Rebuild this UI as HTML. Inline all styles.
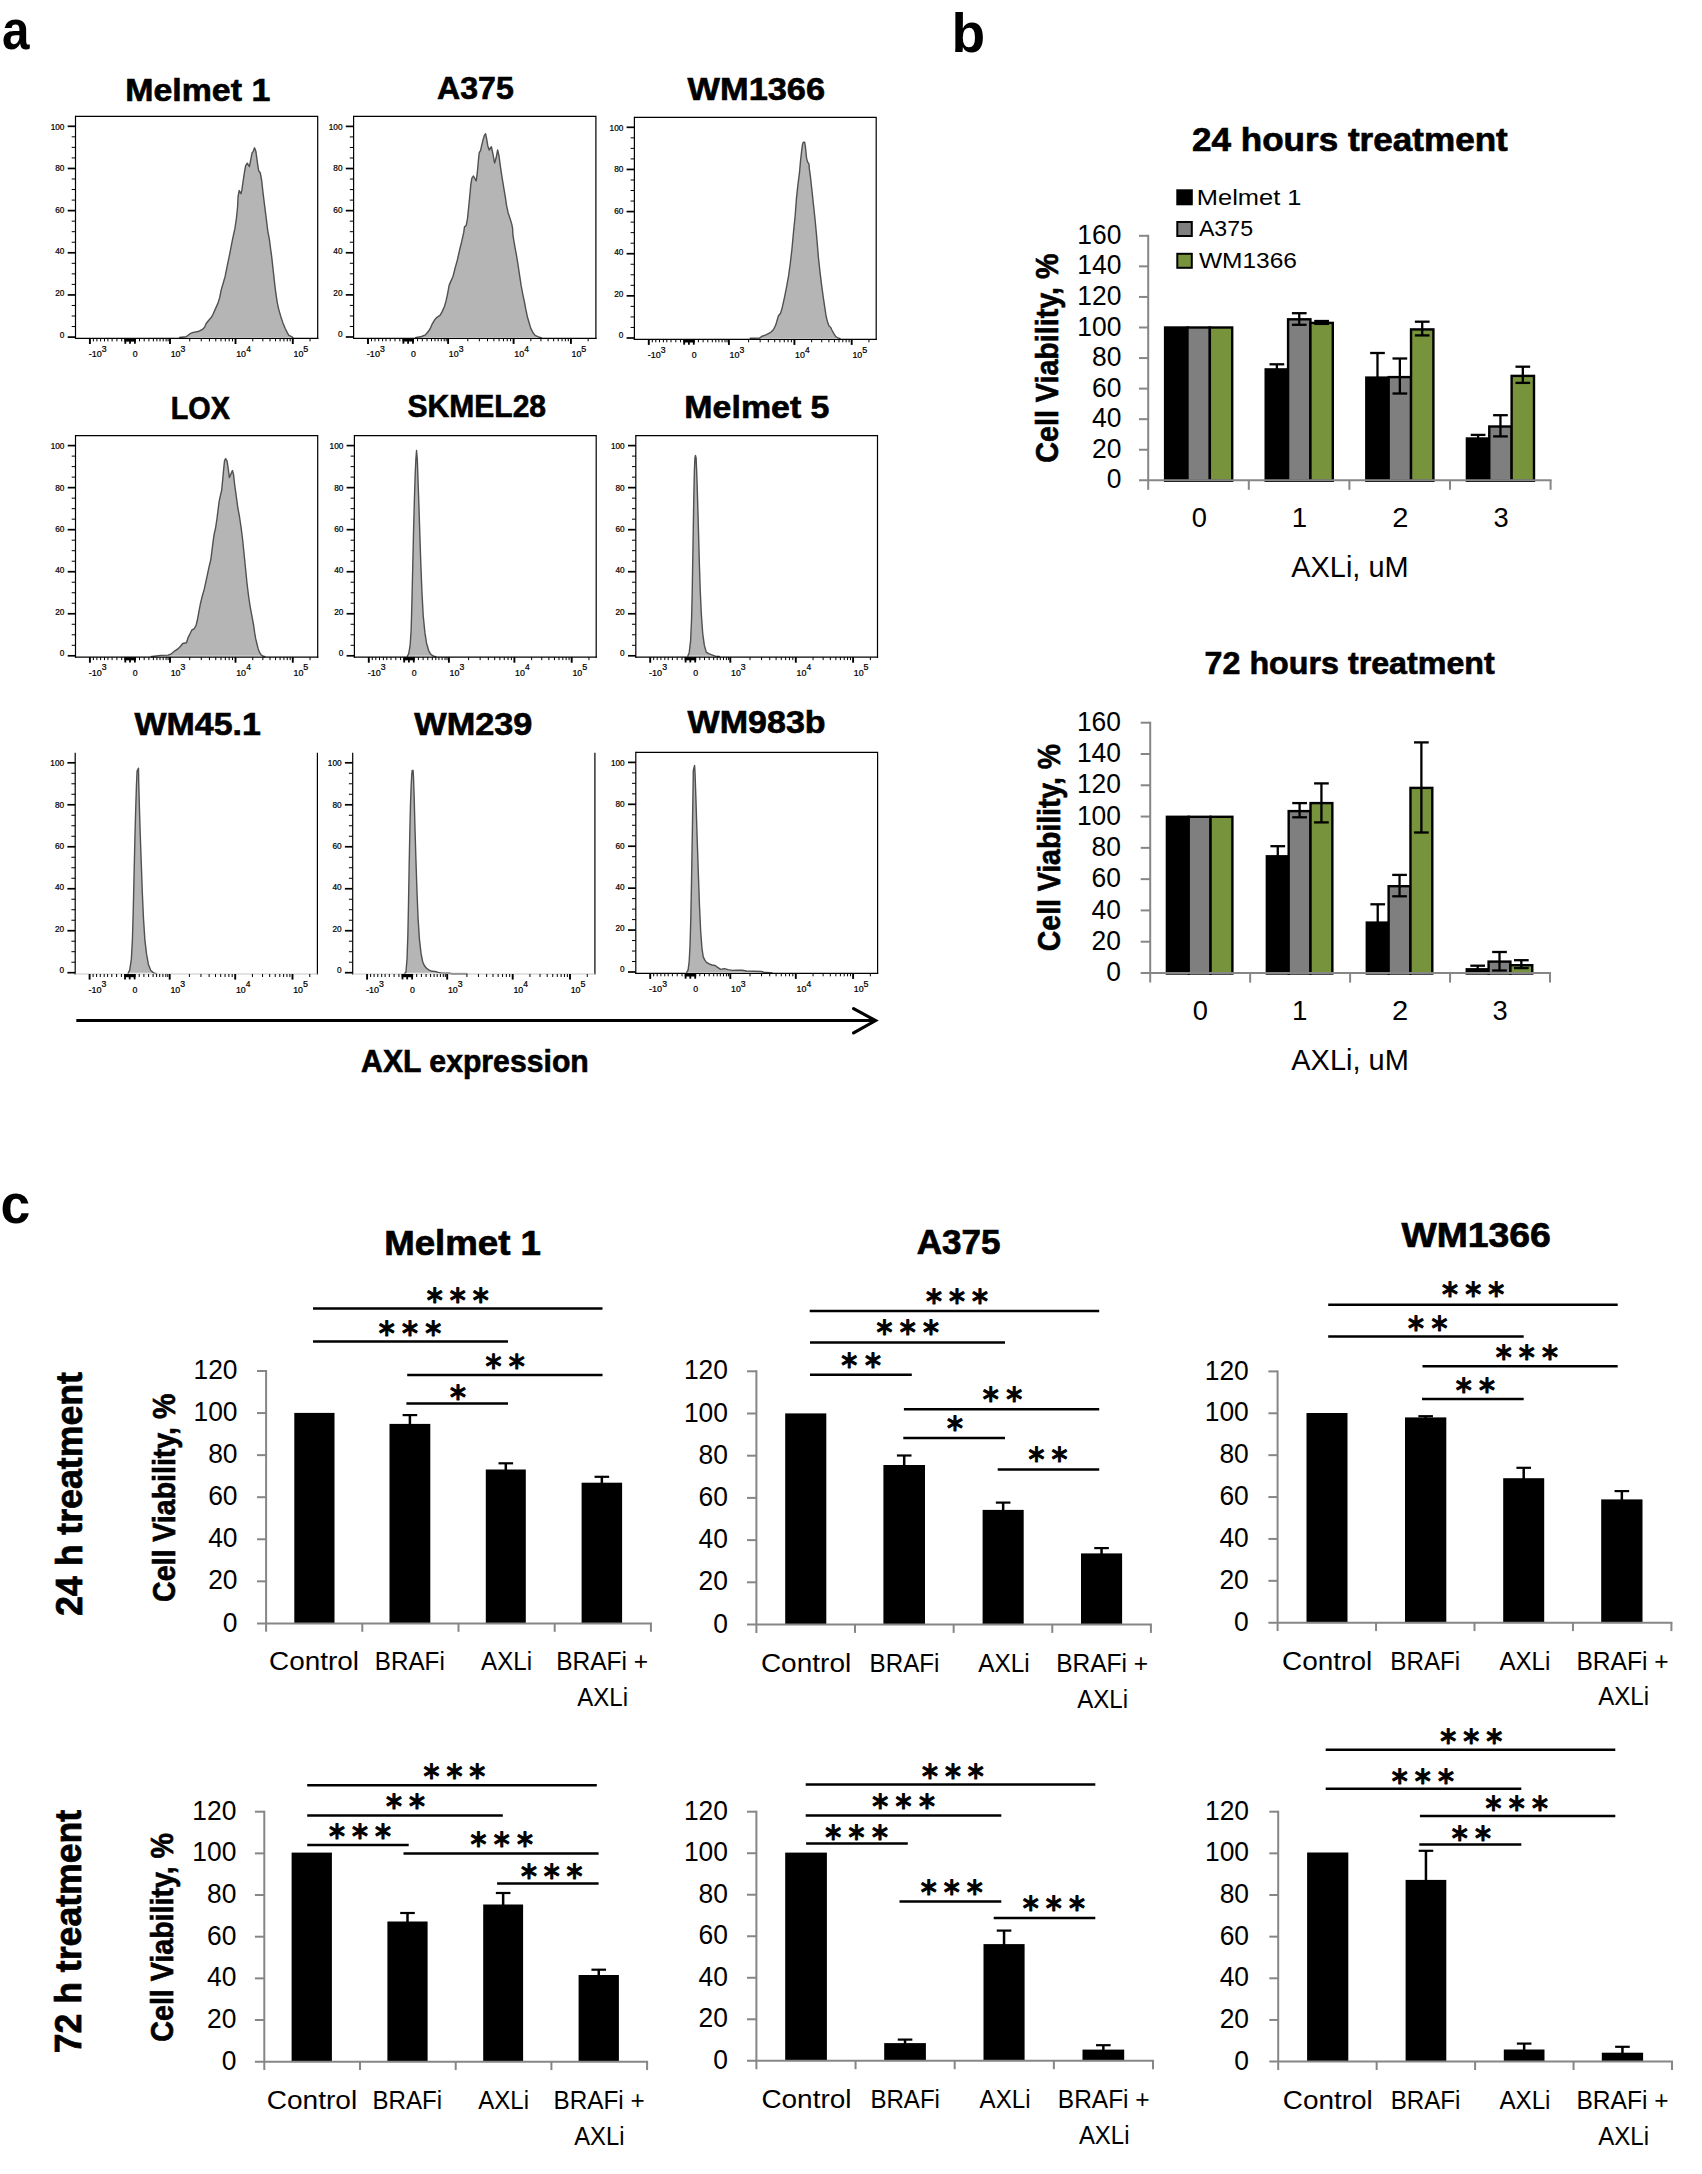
<!DOCTYPE html>
<html lang="en"><head><meta charset="utf-8"><title>AXL expression and cell viability</title>
<style>html,body{margin:0;padding:0;background:#fff}svg{display:block}text{white-space:pre}</style></head><body>
<svg width="1702" height="2174" viewBox="0 0 1702 2174">
<rect width="1702" height="2174" fill="#fff"/>
<path d="M179.19 337.10L179.19 337.49L186.21 336.74L189.99 333.71L193.24 332.41L198.10 331.55L202.42 329.39L204.58 327.23L206.20 323.44L208.37 320.74L211.61 316.96L213.23 313.72L215.39 308.85L218.09 302.91L219.71 297.51L221.33 289.40L222.96 284.00L225.12 276.43L227.28 265.63L229.98 252.66L232.68 238.61L234.84 228.88L236.46 218.07L237.55 207.27L238.09 196.46L239.17 190.51L241.00 193.76L241.87 189.97L242.95 182.41L244.57 171.60L245.65 165.66L247.27 163.17L249.43 166.74L250.51 160.79L252.14 152.69L253.22 151.61L254.51 147.83L255.92 151.61L257.00 159.71L258.08 167.28L258.84 171.06L260.24 172.68L261.65 180.25L262.94 192.14L264.56 205.10L266.19 218.07L267.81 231.04L269.43 239.69L270.51 248.33L271.59 255.90L272.67 265.63L273.75 275.35L274.83 285.08L275.91 293.72L277.21 302.37L278.61 308.85L280.77 316.42L282.94 322.90L285.10 328.31L287.26 332.63L288.88 335.33L292.12 336.95L293.20 338.03L293.20 337.10Z" fill="#b5b5b5"/>
<path d="M179.19 337.49L186.21 336.74L189.99 333.71L193.24 332.41L198.10 331.55L202.42 329.39L204.58 327.23L206.20 323.44L208.37 320.74L211.61 316.96L213.23 313.72L215.39 308.85L218.09 302.91L219.71 297.51L221.33 289.40L222.96 284.00L225.12 276.43L227.28 265.63L229.98 252.66L232.68 238.61L234.84 228.88L236.46 218.07L237.55 207.27L238.09 196.46L239.17 190.51L241.00 193.76L241.87 189.97L242.95 182.41L244.57 171.60L245.65 165.66L247.27 163.17L249.43 166.74L250.51 160.79L252.14 152.69L253.22 151.61L254.51 147.83L255.92 151.61L257.00 159.71L258.08 167.28L258.84 171.06L260.24 172.68L261.65 180.25L262.94 192.14L264.56 205.10L266.19 218.07L267.81 231.04L269.43 239.69L270.51 248.33L271.59 255.90L272.67 265.63L273.75 275.35L274.83 285.08L275.91 293.72L277.21 302.37L278.61 308.85L280.77 316.42L282.94 322.90L285.10 328.31L287.26 332.63L288.88 335.33L292.12 336.95L293.20 338.03" fill="none" stroke="#505050" stroke-width="1.4" stroke-linejoin="round"/>
<path d="M75.50 116.30H317.70V339.00" fill="none" stroke="#000" stroke-width="1.20"/>
<path d="M75.50 115.70L75.50 339.00" stroke="#000" stroke-width="1.20"/>
<path d="M74.90 338.40L318.30 338.40" stroke="#000" stroke-width="1.20"/>
<path d="M67.70 337.10L75.50 337.10" stroke="#000" stroke-width="1.70"/>
<path d="M71.70 326.56L75.50 326.56" stroke="#000" stroke-width="1.00"/>
<path d="M71.70 316.02L75.50 316.02" stroke="#000" stroke-width="1.00"/>
<path d="M71.70 305.48L75.50 305.48" stroke="#000" stroke-width="1.00"/>
<path d="M67.70 294.94L75.50 294.94" stroke="#000" stroke-width="1.70"/>
<path d="M71.70 284.40L75.50 284.40" stroke="#000" stroke-width="1.00"/>
<path d="M71.70 273.86L75.50 273.86" stroke="#000" stroke-width="1.00"/>
<path d="M71.70 263.32L75.50 263.32" stroke="#000" stroke-width="1.00"/>
<path d="M67.70 252.78L75.50 252.78" stroke="#000" stroke-width="1.70"/>
<path d="M71.70 242.24L75.50 242.24" stroke="#000" stroke-width="1.00"/>
<path d="M71.70 231.70L75.50 231.70" stroke="#000" stroke-width="1.00"/>
<path d="M71.70 221.16L75.50 221.16" stroke="#000" stroke-width="1.00"/>
<path d="M67.70 210.62L75.50 210.62" stroke="#000" stroke-width="1.70"/>
<path d="M71.70 200.08L75.50 200.08" stroke="#000" stroke-width="1.00"/>
<path d="M71.70 189.54L75.50 189.54" stroke="#000" stroke-width="1.00"/>
<path d="M71.70 179.00L75.50 179.00" stroke="#000" stroke-width="1.00"/>
<path d="M67.70 168.46L75.50 168.46" stroke="#000" stroke-width="1.70"/>
<path d="M71.70 157.92L75.50 157.92" stroke="#000" stroke-width="1.00"/>
<path d="M71.70 147.38L75.50 147.38" stroke="#000" stroke-width="1.00"/>
<path d="M71.70 136.84L75.50 136.84" stroke="#000" stroke-width="1.00"/>
<path d="M67.70 126.30L75.50 126.30" stroke="#000" stroke-width="1.70"/>
<path d="M89.90 338.40L89.90 344.00" stroke="#000" stroke-width="1.90"/>
<path d="M170.00 338.40L170.00 344.00" stroke="#000" stroke-width="1.90"/>
<path d="M235.50 338.40L235.50 344.00" stroke="#000" stroke-width="1.90"/>
<path d="M292.80 338.40L292.80 344.00" stroke="#000" stroke-width="1.90"/>
<path d="M93.40 338.40L93.40 341.40" stroke="#000" stroke-width="1.00"/>
<path d="M96.90 338.40L96.90 341.40" stroke="#000" stroke-width="1.00"/>
<path d="M100.60 338.40L100.60 341.40" stroke="#000" stroke-width="1.00"/>
<path d="M104.50 338.40L104.50 341.40" stroke="#000" stroke-width="1.00"/>
<path d="M107.90 338.40L107.90 341.40" stroke="#000" stroke-width="1.00"/>
<path d="M112.10 338.40L112.10 341.40" stroke="#000" stroke-width="1.00"/>
<path d="M116.90 338.40L116.90 341.40" stroke="#000" stroke-width="1.00"/>
<path d="M121.70 338.40L121.70 341.40" stroke="#000" stroke-width="1.00"/>
<path d="M139.50 338.40L139.50 341.40" stroke="#000" stroke-width="1.00"/>
<path d="M144.20 338.40L144.20 341.40" stroke="#000" stroke-width="1.00"/>
<path d="M148.90 338.40L148.90 341.40" stroke="#000" stroke-width="1.00"/>
<path d="M153.40 338.40L153.40 341.40" stroke="#000" stroke-width="1.00"/>
<path d="M156.90 338.40L156.90 341.40" stroke="#000" stroke-width="1.00"/>
<path d="M160.00 338.40L160.00 341.40" stroke="#000" stroke-width="1.00"/>
<path d="M163.20 338.40L163.20 341.40" stroke="#000" stroke-width="1.00"/>
<path d="M166.10 338.40L166.10 341.40" stroke="#000" stroke-width="1.00"/>
<path d="M168.10 338.40L168.10 341.40" stroke="#000" stroke-width="1.00"/>
<path d="M189.72 338.40L189.72 341.40" stroke="#000" stroke-width="1.00"/>
<path d="M252.75 338.40L252.75 341.40" stroke="#000" stroke-width="1.00"/>
<path d="M201.25 338.40L201.25 341.40" stroke="#000" stroke-width="1.00"/>
<path d="M262.84 338.40L262.84 341.40" stroke="#000" stroke-width="1.00"/>
<path d="M209.43 338.40L209.43 341.40" stroke="#000" stroke-width="1.00"/>
<path d="M270.00 338.40L270.00 341.40" stroke="#000" stroke-width="1.00"/>
<path d="M215.78 338.40L215.78 341.40" stroke="#000" stroke-width="1.00"/>
<path d="M275.55 338.40L275.55 341.40" stroke="#000" stroke-width="1.00"/>
<path d="M220.97 338.40L220.97 341.40" stroke="#000" stroke-width="1.00"/>
<path d="M280.09 338.40L280.09 341.40" stroke="#000" stroke-width="1.00"/>
<path d="M225.35 338.40L225.35 341.40" stroke="#000" stroke-width="1.00"/>
<path d="M283.92 338.40L283.92 341.40" stroke="#000" stroke-width="1.00"/>
<path d="M229.15 338.40L229.15 341.40" stroke="#000" stroke-width="1.00"/>
<path d="M287.25 338.40L287.25 341.40" stroke="#000" stroke-width="1.00"/>
<path d="M232.50 338.40L232.50 341.40" stroke="#000" stroke-width="1.00"/>
<path d="M290.18 338.40L290.18 341.40" stroke="#000" stroke-width="1.00"/>
<path d="M310.05 338.40L310.05 341.40" stroke="#000" stroke-width="1.00"/>
<rect x="124.40" y="338.40" width="11.50" height="3.20" fill="#000"/>
<path d="M125.30 338.40L125.30 343.80" stroke="#000" stroke-width="1.80"/>
<path d="M130.00 338.40L130.00 343.80" stroke="#000" stroke-width="1.80"/>
<path d="M134.90 338.40L134.90 343.80" stroke="#000" stroke-width="1.80"/>
<path d="M415.14 337.00L415.14 337.57L421.62 336.49L425.41 334.86L428.65 331.08L430.81 327.30L432.43 323.51L435.14 319.19L437.30 317.03L440.00 315.41L442.16 311.62L444.32 306.76L445.95 301.35L447.57 293.78L449.19 285.14L450.81 281.35L452.97 276.49L455.14 267.84L457.30 260.27L459.46 250.54L461.62 241.89L463.78 232.16L464.54 226.54L466.16 225.68L467.57 218.11L468.65 207.30L469.73 196.49L470.81 184.59L471.89 178.11L473.51 175.95L475.14 179.19L476.22 180.81L477.30 172.70L478.38 160.81L479.24 152.70L480.54 150.54L481.62 145.68L483.24 139.19L484.32 135.41L485.62 133.78L486.70 139.19L487.78 145.68L489.19 150.00L491.35 146.76L492.76 153.24L494.59 162.97L496.22 157.57L497.62 150.00L498.92 155.41L500.54 167.30L502.16 178.11L503.78 187.84L505.41 197.57L506.49 205.14L508.11 212.70L510.27 219.19L511.89 224.59L512.65 228.92L512.97 235.41L514.59 245.14L516.22 253.78L517.84 263.51L519.46 274.32L521.08 285.14L522.70 293.78L524.32 301.35L525.95 310.00L527.57 317.57L529.19 322.97L530.81 328.38L532.97 332.70L535.14 335.41L538.38 336.81L541.62 337.89L541.62 337.00Z" fill="#b5b5b5"/>
<path d="M415.14 337.57L421.62 336.49L425.41 334.86L428.65 331.08L430.81 327.30L432.43 323.51L435.14 319.19L437.30 317.03L440.00 315.41L442.16 311.62L444.32 306.76L445.95 301.35L447.57 293.78L449.19 285.14L450.81 281.35L452.97 276.49L455.14 267.84L457.30 260.27L459.46 250.54L461.62 241.89L463.78 232.16L464.54 226.54L466.16 225.68L467.57 218.11L468.65 207.30L469.73 196.49L470.81 184.59L471.89 178.11L473.51 175.95L475.14 179.19L476.22 180.81L477.30 172.70L478.38 160.81L479.24 152.70L480.54 150.54L481.62 145.68L483.24 139.19L484.32 135.41L485.62 133.78L486.70 139.19L487.78 145.68L489.19 150.00L491.35 146.76L492.76 153.24L494.59 162.97L496.22 157.57L497.62 150.00L498.92 155.41L500.54 167.30L502.16 178.11L503.78 187.84L505.41 197.57L506.49 205.14L508.11 212.70L510.27 219.19L511.89 224.59L512.65 228.92L512.97 235.41L514.59 245.14L516.22 253.78L517.84 263.51L519.46 274.32L521.08 285.14L522.70 293.78L524.32 301.35L525.95 310.00L527.57 317.57L529.19 322.97L530.81 328.38L532.97 332.70L535.14 335.41L538.38 336.81L541.62 337.89" fill="none" stroke="#505050" stroke-width="1.4" stroke-linejoin="round"/>
<path d="M353.60 116.40H595.90V338.90" fill="none" stroke="#000" stroke-width="1.20"/>
<path d="M353.60 115.80L353.60 338.90" stroke="#000" stroke-width="1.20"/>
<path d="M353.00 338.30L596.50 338.30" stroke="#000" stroke-width="1.20"/>
<path d="M345.80 337.00L353.60 337.00" stroke="#000" stroke-width="1.70"/>
<path d="M349.80 326.47L353.60 326.47" stroke="#000" stroke-width="1.00"/>
<path d="M349.80 315.94L353.60 315.94" stroke="#000" stroke-width="1.00"/>
<path d="M349.80 305.41L353.60 305.41" stroke="#000" stroke-width="1.00"/>
<path d="M345.80 294.88L353.60 294.88" stroke="#000" stroke-width="1.70"/>
<path d="M349.80 284.35L353.60 284.35" stroke="#000" stroke-width="1.00"/>
<path d="M349.80 273.82L353.60 273.82" stroke="#000" stroke-width="1.00"/>
<path d="M349.80 263.29L353.60 263.29" stroke="#000" stroke-width="1.00"/>
<path d="M345.80 252.76L353.60 252.76" stroke="#000" stroke-width="1.70"/>
<path d="M349.80 242.23L353.60 242.23" stroke="#000" stroke-width="1.00"/>
<path d="M349.80 231.70L353.60 231.70" stroke="#000" stroke-width="1.00"/>
<path d="M349.80 221.17L353.60 221.17" stroke="#000" stroke-width="1.00"/>
<path d="M345.80 210.64L353.60 210.64" stroke="#000" stroke-width="1.70"/>
<path d="M349.80 200.11L353.60 200.11" stroke="#000" stroke-width="1.00"/>
<path d="M349.80 189.58L353.60 189.58" stroke="#000" stroke-width="1.00"/>
<path d="M349.80 179.05L353.60 179.05" stroke="#000" stroke-width="1.00"/>
<path d="M345.80 168.52L353.60 168.52" stroke="#000" stroke-width="1.70"/>
<path d="M349.80 157.99L353.60 157.99" stroke="#000" stroke-width="1.00"/>
<path d="M349.80 147.46L353.60 147.46" stroke="#000" stroke-width="1.00"/>
<path d="M349.80 136.93L353.60 136.93" stroke="#000" stroke-width="1.00"/>
<path d="M345.80 126.40L353.60 126.40" stroke="#000" stroke-width="1.70"/>
<path d="M368.00 338.30L368.00 343.90" stroke="#000" stroke-width="1.90"/>
<path d="M448.10 338.30L448.10 343.90" stroke="#000" stroke-width="1.90"/>
<path d="M513.60 338.30L513.60 343.90" stroke="#000" stroke-width="1.90"/>
<path d="M570.90 338.30L570.90 343.90" stroke="#000" stroke-width="1.90"/>
<path d="M371.50 338.30L371.50 341.30" stroke="#000" stroke-width="1.00"/>
<path d="M375.00 338.30L375.00 341.30" stroke="#000" stroke-width="1.00"/>
<path d="M378.70 338.30L378.70 341.30" stroke="#000" stroke-width="1.00"/>
<path d="M382.60 338.30L382.60 341.30" stroke="#000" stroke-width="1.00"/>
<path d="M386.00 338.30L386.00 341.30" stroke="#000" stroke-width="1.00"/>
<path d="M390.20 338.30L390.20 341.30" stroke="#000" stroke-width="1.00"/>
<path d="M395.00 338.30L395.00 341.30" stroke="#000" stroke-width="1.00"/>
<path d="M399.80 338.30L399.80 341.30" stroke="#000" stroke-width="1.00"/>
<path d="M417.60 338.30L417.60 341.30" stroke="#000" stroke-width="1.00"/>
<path d="M422.30 338.30L422.30 341.30" stroke="#000" stroke-width="1.00"/>
<path d="M427.00 338.30L427.00 341.30" stroke="#000" stroke-width="1.00"/>
<path d="M431.50 338.30L431.50 341.30" stroke="#000" stroke-width="1.00"/>
<path d="M435.00 338.30L435.00 341.30" stroke="#000" stroke-width="1.00"/>
<path d="M438.10 338.30L438.10 341.30" stroke="#000" stroke-width="1.00"/>
<path d="M441.30 338.30L441.30 341.30" stroke="#000" stroke-width="1.00"/>
<path d="M444.20 338.30L444.20 341.30" stroke="#000" stroke-width="1.00"/>
<path d="M446.20 338.30L446.20 341.30" stroke="#000" stroke-width="1.00"/>
<path d="M467.82 338.30L467.82 341.30" stroke="#000" stroke-width="1.00"/>
<path d="M530.85 338.30L530.85 341.30" stroke="#000" stroke-width="1.00"/>
<path d="M479.35 338.30L479.35 341.30" stroke="#000" stroke-width="1.00"/>
<path d="M540.94 338.30L540.94 341.30" stroke="#000" stroke-width="1.00"/>
<path d="M487.53 338.30L487.53 341.30" stroke="#000" stroke-width="1.00"/>
<path d="M548.10 338.30L548.10 341.30" stroke="#000" stroke-width="1.00"/>
<path d="M493.88 338.30L493.88 341.30" stroke="#000" stroke-width="1.00"/>
<path d="M553.65 338.30L553.65 341.30" stroke="#000" stroke-width="1.00"/>
<path d="M499.07 338.30L499.07 341.30" stroke="#000" stroke-width="1.00"/>
<path d="M558.19 338.30L558.19 341.30" stroke="#000" stroke-width="1.00"/>
<path d="M503.45 338.30L503.45 341.30" stroke="#000" stroke-width="1.00"/>
<path d="M562.02 338.30L562.02 341.30" stroke="#000" stroke-width="1.00"/>
<path d="M507.25 338.30L507.25 341.30" stroke="#000" stroke-width="1.00"/>
<path d="M565.35 338.30L565.35 341.30" stroke="#000" stroke-width="1.00"/>
<path d="M510.60 338.30L510.60 341.30" stroke="#000" stroke-width="1.00"/>
<path d="M568.28 338.30L568.28 341.30" stroke="#000" stroke-width="1.00"/>
<path d="M588.15 338.30L588.15 341.30" stroke="#000" stroke-width="1.00"/>
<rect x="402.50" y="338.30" width="11.50" height="3.20" fill="#000"/>
<path d="M403.40 338.30L403.40 343.70" stroke="#000" stroke-width="1.80"/>
<path d="M408.10 338.30L408.10 343.70" stroke="#000" stroke-width="1.80"/>
<path d="M413.00 338.30L413.00 343.70" stroke="#000" stroke-width="1.80"/>
<path d="M749.73 338.00L749.73 338.32L759.46 338.11L761.62 336.49L765.95 334.86L770.27 332.70L773.51 329.46L775.68 325.14L777.30 319.73L778.38 315.95L780.54 313.24L782.16 307.84L784.32 298.11L786.49 287.30L788.65 275.41L790.27 263.51L791.89 249.46L793.51 232.16L795.14 215.95L796.43 198.65L797.84 185.68L799.46 172.70L800.54 160.81L801.62 151.08L802.49 144.59L803.24 142.22L804.65 142.22L805.41 146.76L806.49 157.57L807.57 161.89L808.97 164.05L809.41 169.46L810.49 177.03L811.89 190.00L813.51 205.14L815.14 220.27L816.76 237.57L818.38 257.03L820.00 272.16L821.62 285.14L823.24 297.03L824.86 307.84L826.16 316.49L827.57 321.89L829.19 326.22L830.59 327.30L831.89 330.00L834.05 333.78L835.68 336.49L837.84 337.89L840.54 338.65L840.54 338.00Z" fill="#b5b5b5"/>
<path d="M749.73 338.32L759.46 338.11L761.62 336.49L765.95 334.86L770.27 332.70L773.51 329.46L775.68 325.14L777.30 319.73L778.38 315.95L780.54 313.24L782.16 307.84L784.32 298.11L786.49 287.30L788.65 275.41L790.27 263.51L791.89 249.46L793.51 232.16L795.14 215.95L796.43 198.65L797.84 185.68L799.46 172.70L800.54 160.81L801.62 151.08L802.49 144.59L803.24 142.22L804.65 142.22L805.41 146.76L806.49 157.57L807.57 161.89L808.97 164.05L809.41 169.46L810.49 177.03L811.89 190.00L813.51 205.14L815.14 220.27L816.76 237.57L818.38 257.03L820.00 272.16L821.62 285.14L823.24 297.03L824.86 307.84L826.16 316.49L827.57 321.89L829.19 326.22L830.59 327.30L831.89 330.00L834.05 333.78L835.68 336.49L837.84 337.89L840.54 338.65" fill="none" stroke="#505050" stroke-width="1.4" stroke-linejoin="round"/>
<path d="M634.40 117.30H876.20V339.90" fill="none" stroke="#000" stroke-width="1.20"/>
<path d="M634.40 116.70L634.40 339.90" stroke="#000" stroke-width="1.20"/>
<path d="M633.80 339.30L876.80 339.30" stroke="#000" stroke-width="1.20"/>
<path d="M626.60 338.00L634.40 338.00" stroke="#000" stroke-width="1.70"/>
<path d="M630.60 327.46L634.40 327.46" stroke="#000" stroke-width="1.00"/>
<path d="M630.60 316.93L634.40 316.93" stroke="#000" stroke-width="1.00"/>
<path d="M630.60 306.39L634.40 306.39" stroke="#000" stroke-width="1.00"/>
<path d="M626.60 295.86L634.40 295.86" stroke="#000" stroke-width="1.70"/>
<path d="M630.60 285.32L634.40 285.32" stroke="#000" stroke-width="1.00"/>
<path d="M630.60 274.79L634.40 274.79" stroke="#000" stroke-width="1.00"/>
<path d="M630.60 264.25L634.40 264.25" stroke="#000" stroke-width="1.00"/>
<path d="M626.60 253.72L634.40 253.72" stroke="#000" stroke-width="1.70"/>
<path d="M630.60 243.19L634.40 243.19" stroke="#000" stroke-width="1.00"/>
<path d="M630.60 232.65L634.40 232.65" stroke="#000" stroke-width="1.00"/>
<path d="M630.60 222.12L634.40 222.12" stroke="#000" stroke-width="1.00"/>
<path d="M626.60 211.58L634.40 211.58" stroke="#000" stroke-width="1.70"/>
<path d="M630.60 201.05L634.40 201.05" stroke="#000" stroke-width="1.00"/>
<path d="M630.60 190.51L634.40 190.51" stroke="#000" stroke-width="1.00"/>
<path d="M630.60 179.98L634.40 179.98" stroke="#000" stroke-width="1.00"/>
<path d="M626.60 169.44L634.40 169.44" stroke="#000" stroke-width="1.70"/>
<path d="M630.60 158.91L634.40 158.91" stroke="#000" stroke-width="1.00"/>
<path d="M630.60 148.37L634.40 148.37" stroke="#000" stroke-width="1.00"/>
<path d="M630.60 137.84L634.40 137.84" stroke="#000" stroke-width="1.00"/>
<path d="M626.60 127.30L634.40 127.30" stroke="#000" stroke-width="1.70"/>
<path d="M648.80 339.30L648.80 344.90" stroke="#000" stroke-width="1.90"/>
<path d="M728.90 339.30L728.90 344.90" stroke="#000" stroke-width="1.90"/>
<path d="M794.40 339.30L794.40 344.90" stroke="#000" stroke-width="1.90"/>
<path d="M851.70 339.30L851.70 344.90" stroke="#000" stroke-width="1.90"/>
<path d="M652.30 339.30L652.30 342.30" stroke="#000" stroke-width="1.00"/>
<path d="M655.80 339.30L655.80 342.30" stroke="#000" stroke-width="1.00"/>
<path d="M659.50 339.30L659.50 342.30" stroke="#000" stroke-width="1.00"/>
<path d="M663.40 339.30L663.40 342.30" stroke="#000" stroke-width="1.00"/>
<path d="M666.80 339.30L666.80 342.30" stroke="#000" stroke-width="1.00"/>
<path d="M671.00 339.30L671.00 342.30" stroke="#000" stroke-width="1.00"/>
<path d="M675.80 339.30L675.80 342.30" stroke="#000" stroke-width="1.00"/>
<path d="M680.60 339.30L680.60 342.30" stroke="#000" stroke-width="1.00"/>
<path d="M698.40 339.30L698.40 342.30" stroke="#000" stroke-width="1.00"/>
<path d="M703.10 339.30L703.10 342.30" stroke="#000" stroke-width="1.00"/>
<path d="M707.80 339.30L707.80 342.30" stroke="#000" stroke-width="1.00"/>
<path d="M712.30 339.30L712.30 342.30" stroke="#000" stroke-width="1.00"/>
<path d="M715.80 339.30L715.80 342.30" stroke="#000" stroke-width="1.00"/>
<path d="M718.90 339.30L718.90 342.30" stroke="#000" stroke-width="1.00"/>
<path d="M722.10 339.30L722.10 342.30" stroke="#000" stroke-width="1.00"/>
<path d="M725.00 339.30L725.00 342.30" stroke="#000" stroke-width="1.00"/>
<path d="M727.00 339.30L727.00 342.30" stroke="#000" stroke-width="1.00"/>
<path d="M748.62 339.30L748.62 342.30" stroke="#000" stroke-width="1.00"/>
<path d="M811.65 339.30L811.65 342.30" stroke="#000" stroke-width="1.00"/>
<path d="M760.15 339.30L760.15 342.30" stroke="#000" stroke-width="1.00"/>
<path d="M821.74 339.30L821.74 342.30" stroke="#000" stroke-width="1.00"/>
<path d="M768.33 339.30L768.33 342.30" stroke="#000" stroke-width="1.00"/>
<path d="M828.90 339.30L828.90 342.30" stroke="#000" stroke-width="1.00"/>
<path d="M774.68 339.30L774.68 342.30" stroke="#000" stroke-width="1.00"/>
<path d="M834.45 339.30L834.45 342.30" stroke="#000" stroke-width="1.00"/>
<path d="M779.87 339.30L779.87 342.30" stroke="#000" stroke-width="1.00"/>
<path d="M838.99 339.30L838.99 342.30" stroke="#000" stroke-width="1.00"/>
<path d="M784.25 339.30L784.25 342.30" stroke="#000" stroke-width="1.00"/>
<path d="M842.82 339.30L842.82 342.30" stroke="#000" stroke-width="1.00"/>
<path d="M788.05 339.30L788.05 342.30" stroke="#000" stroke-width="1.00"/>
<path d="M846.15 339.30L846.15 342.30" stroke="#000" stroke-width="1.00"/>
<path d="M791.40 339.30L791.40 342.30" stroke="#000" stroke-width="1.00"/>
<path d="M849.08 339.30L849.08 342.30" stroke="#000" stroke-width="1.00"/>
<path d="M868.95 339.30L868.95 342.30" stroke="#000" stroke-width="1.00"/>
<rect x="683.30" y="339.30" width="11.50" height="3.20" fill="#000"/>
<path d="M684.20 339.30L684.20 344.70" stroke="#000" stroke-width="1.80"/>
<path d="M688.90 339.30L688.90 344.70" stroke="#000" stroke-width="1.80"/>
<path d="M693.80 339.30L693.80 344.70" stroke="#000" stroke-width="1.80"/>
<path d="M150.81 655.80L150.81 656.70L160.54 655.41L168.11 655.08L171.35 653.78L174.59 651.08L177.84 648.92L180.54 646.22L182.70 643.51L186.49 642.76L188.11 637.57L190.27 633.24L191.89 630.00L194.05 628.92L196.00 625.68L197.30 620.27L198.92 611.62L200.32 604.05L202.16 596.49L204.32 588.92L205.95 581.35L207.57 573.78L209.19 566.22L210.81 559.73L211.89 551.08L212.97 542.43L214.05 534.86L215.68 527.30L216.97 518.65L218.05 510.00L219.14 501.35L220.54 494.86L221.62 490.54L222.70 479.73L223.78 467.84L224.54 460.81L225.62 458.65L227.03 460.81L228.11 467.84L229.41 477.57L230.81 474.32L232.43 470.54L233.51 474.32L234.59 484.05L236.22 495.95L237.84 507.84L239.46 516.49L241.08 527.30L242.70 540.27L244.00 553.24L245.41 567.30L247.03 583.51L248.65 596.49L250.27 607.30L251.89 615.95L253.51 624.59L254.59 632.16L255.68 638.65L256.76 642.97L258.05 648.38L259.46 652.16L261.08 654.86L263.24 656.27L265.41 656.81L265.41 655.80Z" fill="#b5b5b5"/>
<path d="M150.81 656.70L160.54 655.41L168.11 655.08L171.35 653.78L174.59 651.08L177.84 648.92L180.54 646.22L182.70 643.51L186.49 642.76L188.11 637.57L190.27 633.24L191.89 630.00L194.05 628.92L196.00 625.68L197.30 620.27L198.92 611.62L200.32 604.05L202.16 596.49L204.32 588.92L205.95 581.35L207.57 573.78L209.19 566.22L210.81 559.73L211.89 551.08L212.97 542.43L214.05 534.86L215.68 527.30L216.97 518.65L218.05 510.00L219.14 501.35L220.54 494.86L221.62 490.54L222.70 479.73L223.78 467.84L224.54 460.81L225.62 458.65L227.03 460.81L228.11 467.84L229.41 477.57L230.81 474.32L232.43 470.54L233.51 474.32L234.59 484.05L236.22 495.95L237.84 507.84L239.46 516.49L241.08 527.30L242.70 540.27L244.00 553.24L245.41 567.30L247.03 583.51L248.65 596.49L250.27 607.30L251.89 615.95L253.51 624.59L254.59 632.16L255.68 638.65L256.76 642.97L258.05 648.38L259.46 652.16L261.08 654.86L263.24 656.27L265.41 656.81" fill="none" stroke="#505050" stroke-width="1.4" stroke-linejoin="round"/>
<path d="M75.50 435.60H317.70V657.70" fill="none" stroke="#000" stroke-width="1.20"/>
<path d="M75.50 435.00L75.50 657.70" stroke="#000" stroke-width="1.20"/>
<path d="M74.90 657.10L318.30 657.10" stroke="#000" stroke-width="1.20"/>
<path d="M67.70 655.80L75.50 655.80" stroke="#000" stroke-width="1.70"/>
<path d="M71.70 645.29L75.50 645.29" stroke="#000" stroke-width="1.00"/>
<path d="M71.70 634.78L75.50 634.78" stroke="#000" stroke-width="1.00"/>
<path d="M71.70 624.27L75.50 624.27" stroke="#000" stroke-width="1.00"/>
<path d="M67.70 613.76L75.50 613.76" stroke="#000" stroke-width="1.70"/>
<path d="M71.70 603.25L75.50 603.25" stroke="#000" stroke-width="1.00"/>
<path d="M71.70 592.74L75.50 592.74" stroke="#000" stroke-width="1.00"/>
<path d="M71.70 582.23L75.50 582.23" stroke="#000" stroke-width="1.00"/>
<path d="M67.70 571.72L75.50 571.72" stroke="#000" stroke-width="1.70"/>
<path d="M71.70 561.21L75.50 561.21" stroke="#000" stroke-width="1.00"/>
<path d="M71.70 550.70L75.50 550.70" stroke="#000" stroke-width="1.00"/>
<path d="M71.70 540.19L75.50 540.19" stroke="#000" stroke-width="1.00"/>
<path d="M67.70 529.68L75.50 529.68" stroke="#000" stroke-width="1.70"/>
<path d="M71.70 519.17L75.50 519.17" stroke="#000" stroke-width="1.00"/>
<path d="M71.70 508.66L75.50 508.66" stroke="#000" stroke-width="1.00"/>
<path d="M71.70 498.15L75.50 498.15" stroke="#000" stroke-width="1.00"/>
<path d="M67.70 487.64L75.50 487.64" stroke="#000" stroke-width="1.70"/>
<path d="M71.70 477.13L75.50 477.13" stroke="#000" stroke-width="1.00"/>
<path d="M71.70 466.62L75.50 466.62" stroke="#000" stroke-width="1.00"/>
<path d="M71.70 456.11L75.50 456.11" stroke="#000" stroke-width="1.00"/>
<path d="M67.70 445.60L75.50 445.60" stroke="#000" stroke-width="1.70"/>
<path d="M89.90 657.10L89.90 662.70" stroke="#000" stroke-width="1.90"/>
<path d="M170.00 657.10L170.00 662.70" stroke="#000" stroke-width="1.90"/>
<path d="M235.50 657.10L235.50 662.70" stroke="#000" stroke-width="1.90"/>
<path d="M292.80 657.10L292.80 662.70" stroke="#000" stroke-width="1.90"/>
<path d="M93.40 657.10L93.40 660.10" stroke="#000" stroke-width="1.00"/>
<path d="M96.90 657.10L96.90 660.10" stroke="#000" stroke-width="1.00"/>
<path d="M100.60 657.10L100.60 660.10" stroke="#000" stroke-width="1.00"/>
<path d="M104.50 657.10L104.50 660.10" stroke="#000" stroke-width="1.00"/>
<path d="M107.90 657.10L107.90 660.10" stroke="#000" stroke-width="1.00"/>
<path d="M112.10 657.10L112.10 660.10" stroke="#000" stroke-width="1.00"/>
<path d="M116.90 657.10L116.90 660.10" stroke="#000" stroke-width="1.00"/>
<path d="M121.70 657.10L121.70 660.10" stroke="#000" stroke-width="1.00"/>
<path d="M139.50 657.10L139.50 660.10" stroke="#000" stroke-width="1.00"/>
<path d="M144.20 657.10L144.20 660.10" stroke="#000" stroke-width="1.00"/>
<path d="M148.90 657.10L148.90 660.10" stroke="#000" stroke-width="1.00"/>
<path d="M153.40 657.10L153.40 660.10" stroke="#000" stroke-width="1.00"/>
<path d="M156.90 657.10L156.90 660.10" stroke="#000" stroke-width="1.00"/>
<path d="M160.00 657.10L160.00 660.10" stroke="#000" stroke-width="1.00"/>
<path d="M163.20 657.10L163.20 660.10" stroke="#000" stroke-width="1.00"/>
<path d="M166.10 657.10L166.10 660.10" stroke="#000" stroke-width="1.00"/>
<path d="M168.10 657.10L168.10 660.10" stroke="#000" stroke-width="1.00"/>
<path d="M189.72 657.10L189.72 660.10" stroke="#000" stroke-width="1.00"/>
<path d="M252.75 657.10L252.75 660.10" stroke="#000" stroke-width="1.00"/>
<path d="M201.25 657.10L201.25 660.10" stroke="#000" stroke-width="1.00"/>
<path d="M262.84 657.10L262.84 660.10" stroke="#000" stroke-width="1.00"/>
<path d="M209.43 657.10L209.43 660.10" stroke="#000" stroke-width="1.00"/>
<path d="M270.00 657.10L270.00 660.10" stroke="#000" stroke-width="1.00"/>
<path d="M215.78 657.10L215.78 660.10" stroke="#000" stroke-width="1.00"/>
<path d="M275.55 657.10L275.55 660.10" stroke="#000" stroke-width="1.00"/>
<path d="M220.97 657.10L220.97 660.10" stroke="#000" stroke-width="1.00"/>
<path d="M280.09 657.10L280.09 660.10" stroke="#000" stroke-width="1.00"/>
<path d="M225.35 657.10L225.35 660.10" stroke="#000" stroke-width="1.00"/>
<path d="M283.92 657.10L283.92 660.10" stroke="#000" stroke-width="1.00"/>
<path d="M229.15 657.10L229.15 660.10" stroke="#000" stroke-width="1.00"/>
<path d="M287.25 657.10L287.25 660.10" stroke="#000" stroke-width="1.00"/>
<path d="M232.50 657.10L232.50 660.10" stroke="#000" stroke-width="1.00"/>
<path d="M290.18 657.10L290.18 660.10" stroke="#000" stroke-width="1.00"/>
<path d="M310.05 657.10L310.05 660.10" stroke="#000" stroke-width="1.00"/>
<rect x="124.40" y="657.10" width="11.50" height="3.20" fill="#000"/>
<path d="M125.30 657.10L125.30 662.50" stroke="#000" stroke-width="1.80"/>
<path d="M130.00 657.10L130.00 662.50" stroke="#000" stroke-width="1.80"/>
<path d="M134.90 657.10L134.90 662.50" stroke="#000" stroke-width="1.80"/>
<path d="M407.03 655.80L407.03 656.81L408.65 653.78L410.05 646.22L411.14 630.00L411.89 602.97L412.65 570.54L413.51 532.70L414.38 500.27L415.14 475.41L415.89 459.19L416.54 450.54L417.30 459.19L418.05 480.81L418.92 505.68L419.78 532.70L420.86 565.14L421.95 592.16L423.24 615.95L424.86 632.16L426.49 642.97L428.65 650.54L430.81 654.32L433.51 656.16L436.22 656.81L436.22 655.80Z" fill="#b5b5b5"/>
<path d="M407.03 656.81L408.65 653.78L410.05 646.22L411.14 630.00L411.89 602.97L412.65 570.54L413.51 532.70L414.38 500.27L415.14 475.41L415.89 459.19L416.54 450.54L417.30 459.19L418.05 480.81L418.92 505.68L419.78 532.70L420.86 565.14L421.95 592.16L423.24 615.95L424.86 632.16L426.49 642.97L428.65 650.54L430.81 654.32L433.51 656.16L436.22 656.81" fill="none" stroke="#505050" stroke-width="1.4" stroke-linejoin="round"/>
<path d="M354.40 435.60H596.20V657.70" fill="none" stroke="#000" stroke-width="1.20"/>
<path d="M354.40 435.00L354.40 657.70" stroke="#000" stroke-width="1.20"/>
<path d="M353.80 657.10L596.80 657.10" stroke="#000" stroke-width="1.20"/>
<path d="M346.60 655.80L354.40 655.80" stroke="#000" stroke-width="1.70"/>
<path d="M350.60 645.29L354.40 645.29" stroke="#000" stroke-width="1.00"/>
<path d="M350.60 634.78L354.40 634.78" stroke="#000" stroke-width="1.00"/>
<path d="M350.60 624.27L354.40 624.27" stroke="#000" stroke-width="1.00"/>
<path d="M346.60 613.76L354.40 613.76" stroke="#000" stroke-width="1.70"/>
<path d="M350.60 603.25L354.40 603.25" stroke="#000" stroke-width="1.00"/>
<path d="M350.60 592.74L354.40 592.74" stroke="#000" stroke-width="1.00"/>
<path d="M350.60 582.23L354.40 582.23" stroke="#000" stroke-width="1.00"/>
<path d="M346.60 571.72L354.40 571.72" stroke="#000" stroke-width="1.70"/>
<path d="M350.60 561.21L354.40 561.21" stroke="#000" stroke-width="1.00"/>
<path d="M350.60 550.70L354.40 550.70" stroke="#000" stroke-width="1.00"/>
<path d="M350.60 540.19L354.40 540.19" stroke="#000" stroke-width="1.00"/>
<path d="M346.60 529.68L354.40 529.68" stroke="#000" stroke-width="1.70"/>
<path d="M350.60 519.17L354.40 519.17" stroke="#000" stroke-width="1.00"/>
<path d="M350.60 508.66L354.40 508.66" stroke="#000" stroke-width="1.00"/>
<path d="M350.60 498.15L354.40 498.15" stroke="#000" stroke-width="1.00"/>
<path d="M346.60 487.64L354.40 487.64" stroke="#000" stroke-width="1.70"/>
<path d="M350.60 477.13L354.40 477.13" stroke="#000" stroke-width="1.00"/>
<path d="M350.60 466.62L354.40 466.62" stroke="#000" stroke-width="1.00"/>
<path d="M350.60 456.11L354.40 456.11" stroke="#000" stroke-width="1.00"/>
<path d="M346.60 445.60L354.40 445.60" stroke="#000" stroke-width="1.70"/>
<path d="M368.80 657.10L368.80 662.70" stroke="#000" stroke-width="1.90"/>
<path d="M448.90 657.10L448.90 662.70" stroke="#000" stroke-width="1.90"/>
<path d="M514.40 657.10L514.40 662.70" stroke="#000" stroke-width="1.90"/>
<path d="M571.70 657.10L571.70 662.70" stroke="#000" stroke-width="1.90"/>
<path d="M372.30 657.10L372.30 660.10" stroke="#000" stroke-width="1.00"/>
<path d="M375.80 657.10L375.80 660.10" stroke="#000" stroke-width="1.00"/>
<path d="M379.50 657.10L379.50 660.10" stroke="#000" stroke-width="1.00"/>
<path d="M383.40 657.10L383.40 660.10" stroke="#000" stroke-width="1.00"/>
<path d="M386.80 657.10L386.80 660.10" stroke="#000" stroke-width="1.00"/>
<path d="M391.00 657.10L391.00 660.10" stroke="#000" stroke-width="1.00"/>
<path d="M395.80 657.10L395.80 660.10" stroke="#000" stroke-width="1.00"/>
<path d="M400.60 657.10L400.60 660.10" stroke="#000" stroke-width="1.00"/>
<path d="M418.40 657.10L418.40 660.10" stroke="#000" stroke-width="1.00"/>
<path d="M423.10 657.10L423.10 660.10" stroke="#000" stroke-width="1.00"/>
<path d="M427.80 657.10L427.80 660.10" stroke="#000" stroke-width="1.00"/>
<path d="M432.30 657.10L432.30 660.10" stroke="#000" stroke-width="1.00"/>
<path d="M435.80 657.10L435.80 660.10" stroke="#000" stroke-width="1.00"/>
<path d="M438.90 657.10L438.90 660.10" stroke="#000" stroke-width="1.00"/>
<path d="M442.10 657.10L442.10 660.10" stroke="#000" stroke-width="1.00"/>
<path d="M445.00 657.10L445.00 660.10" stroke="#000" stroke-width="1.00"/>
<path d="M447.00 657.10L447.00 660.10" stroke="#000" stroke-width="1.00"/>
<path d="M468.62 657.10L468.62 660.10" stroke="#000" stroke-width="1.00"/>
<path d="M531.65 657.10L531.65 660.10" stroke="#000" stroke-width="1.00"/>
<path d="M480.15 657.10L480.15 660.10" stroke="#000" stroke-width="1.00"/>
<path d="M541.74 657.10L541.74 660.10" stroke="#000" stroke-width="1.00"/>
<path d="M488.33 657.10L488.33 660.10" stroke="#000" stroke-width="1.00"/>
<path d="M548.90 657.10L548.90 660.10" stroke="#000" stroke-width="1.00"/>
<path d="M494.68 657.10L494.68 660.10" stroke="#000" stroke-width="1.00"/>
<path d="M554.45 657.10L554.45 660.10" stroke="#000" stroke-width="1.00"/>
<path d="M499.87 657.10L499.87 660.10" stroke="#000" stroke-width="1.00"/>
<path d="M558.99 657.10L558.99 660.10" stroke="#000" stroke-width="1.00"/>
<path d="M504.25 657.10L504.25 660.10" stroke="#000" stroke-width="1.00"/>
<path d="M562.82 657.10L562.82 660.10" stroke="#000" stroke-width="1.00"/>
<path d="M508.05 657.10L508.05 660.10" stroke="#000" stroke-width="1.00"/>
<path d="M566.15 657.10L566.15 660.10" stroke="#000" stroke-width="1.00"/>
<path d="M511.40 657.10L511.40 660.10" stroke="#000" stroke-width="1.00"/>
<path d="M569.08 657.10L569.08 660.10" stroke="#000" stroke-width="1.00"/>
<path d="M588.95 657.10L588.95 660.10" stroke="#000" stroke-width="1.00"/>
<rect x="403.30" y="657.10" width="11.50" height="3.20" fill="#000"/>
<path d="M404.20 657.10L404.20 662.50" stroke="#000" stroke-width="1.80"/>
<path d="M408.90 657.10L408.90 662.50" stroke="#000" stroke-width="1.80"/>
<path d="M413.80 657.10L413.80 662.50" stroke="#000" stroke-width="1.80"/>
<path d="M687.57 655.80L687.57 656.81L689.19 652.70L690.59 640.81L691.57 619.19L692.22 592.16L692.76 559.73L693.30 527.30L693.84 494.86L694.38 471.08L694.92 458.11L695.46 455.41L696.11 458.11L696.76 473.24L697.51 497.03L698.38 527.30L699.24 559.73L700.22 590.00L701.30 613.78L702.70 633.24L704.32 645.14L706.27 652.16L708.65 653.57L711.89 654.86L715.14 656.16L720.00 656.81L720.00 655.80Z" fill="#b5b5b5"/>
<path d="M687.57 656.81L689.19 652.70L690.59 640.81L691.57 619.19L692.22 592.16L692.76 559.73L693.30 527.30L693.84 494.86L694.38 471.08L694.92 458.11L695.46 455.41L696.11 458.11L696.76 473.24L697.51 497.03L698.38 527.30L699.24 559.73L700.22 590.00L701.30 613.78L702.70 633.24L704.32 645.14L706.27 652.16L708.65 653.57L711.89 654.86L715.14 656.16L720.00 656.81" fill="none" stroke="#505050" stroke-width="1.4" stroke-linejoin="round"/>
<path d="M635.80 435.60H877.50V657.70" fill="none" stroke="#000" stroke-width="1.20"/>
<path d="M635.80 435.00L635.80 657.70" stroke="#000" stroke-width="1.20"/>
<path d="M635.20 657.10L878.10 657.10" stroke="#000" stroke-width="1.20"/>
<path d="M628.00 655.80L635.80 655.80" stroke="#000" stroke-width="1.70"/>
<path d="M632.00 645.29L635.80 645.29" stroke="#000" stroke-width="1.00"/>
<path d="M632.00 634.78L635.80 634.78" stroke="#000" stroke-width="1.00"/>
<path d="M632.00 624.27L635.80 624.27" stroke="#000" stroke-width="1.00"/>
<path d="M628.00 613.76L635.80 613.76" stroke="#000" stroke-width="1.70"/>
<path d="M632.00 603.25L635.80 603.25" stroke="#000" stroke-width="1.00"/>
<path d="M632.00 592.74L635.80 592.74" stroke="#000" stroke-width="1.00"/>
<path d="M632.00 582.23L635.80 582.23" stroke="#000" stroke-width="1.00"/>
<path d="M628.00 571.72L635.80 571.72" stroke="#000" stroke-width="1.70"/>
<path d="M632.00 561.21L635.80 561.21" stroke="#000" stroke-width="1.00"/>
<path d="M632.00 550.70L635.80 550.70" stroke="#000" stroke-width="1.00"/>
<path d="M632.00 540.19L635.80 540.19" stroke="#000" stroke-width="1.00"/>
<path d="M628.00 529.68L635.80 529.68" stroke="#000" stroke-width="1.70"/>
<path d="M632.00 519.17L635.80 519.17" stroke="#000" stroke-width="1.00"/>
<path d="M632.00 508.66L635.80 508.66" stroke="#000" stroke-width="1.00"/>
<path d="M632.00 498.15L635.80 498.15" stroke="#000" stroke-width="1.00"/>
<path d="M628.00 487.64L635.80 487.64" stroke="#000" stroke-width="1.70"/>
<path d="M632.00 477.13L635.80 477.13" stroke="#000" stroke-width="1.00"/>
<path d="M632.00 466.62L635.80 466.62" stroke="#000" stroke-width="1.00"/>
<path d="M632.00 456.11L635.80 456.11" stroke="#000" stroke-width="1.00"/>
<path d="M628.00 445.60L635.80 445.60" stroke="#000" stroke-width="1.70"/>
<path d="M650.20 657.10L650.20 662.70" stroke="#000" stroke-width="1.90"/>
<path d="M730.30 657.10L730.30 662.70" stroke="#000" stroke-width="1.90"/>
<path d="M795.80 657.10L795.80 662.70" stroke="#000" stroke-width="1.90"/>
<path d="M853.10 657.10L853.10 662.70" stroke="#000" stroke-width="1.90"/>
<path d="M653.70 657.10L653.70 660.10" stroke="#000" stroke-width="1.00"/>
<path d="M657.20 657.10L657.20 660.10" stroke="#000" stroke-width="1.00"/>
<path d="M660.90 657.10L660.90 660.10" stroke="#000" stroke-width="1.00"/>
<path d="M664.80 657.10L664.80 660.10" stroke="#000" stroke-width="1.00"/>
<path d="M668.20 657.10L668.20 660.10" stroke="#000" stroke-width="1.00"/>
<path d="M672.40 657.10L672.40 660.10" stroke="#000" stroke-width="1.00"/>
<path d="M677.20 657.10L677.20 660.10" stroke="#000" stroke-width="1.00"/>
<path d="M682.00 657.10L682.00 660.10" stroke="#000" stroke-width="1.00"/>
<path d="M699.80 657.10L699.80 660.10" stroke="#000" stroke-width="1.00"/>
<path d="M704.50 657.10L704.50 660.10" stroke="#000" stroke-width="1.00"/>
<path d="M709.20 657.10L709.20 660.10" stroke="#000" stroke-width="1.00"/>
<path d="M713.70 657.10L713.70 660.10" stroke="#000" stroke-width="1.00"/>
<path d="M717.20 657.10L717.20 660.10" stroke="#000" stroke-width="1.00"/>
<path d="M720.30 657.10L720.30 660.10" stroke="#000" stroke-width="1.00"/>
<path d="M723.50 657.10L723.50 660.10" stroke="#000" stroke-width="1.00"/>
<path d="M726.40 657.10L726.40 660.10" stroke="#000" stroke-width="1.00"/>
<path d="M728.40 657.10L728.40 660.10" stroke="#000" stroke-width="1.00"/>
<path d="M750.02 657.10L750.02 660.10" stroke="#000" stroke-width="1.00"/>
<path d="M813.05 657.10L813.05 660.10" stroke="#000" stroke-width="1.00"/>
<path d="M761.55 657.10L761.55 660.10" stroke="#000" stroke-width="1.00"/>
<path d="M823.14 657.10L823.14 660.10" stroke="#000" stroke-width="1.00"/>
<path d="M769.73 657.10L769.73 660.10" stroke="#000" stroke-width="1.00"/>
<path d="M830.30 657.10L830.30 660.10" stroke="#000" stroke-width="1.00"/>
<path d="M776.08 657.10L776.08 660.10" stroke="#000" stroke-width="1.00"/>
<path d="M835.85 657.10L835.85 660.10" stroke="#000" stroke-width="1.00"/>
<path d="M781.27 657.10L781.27 660.10" stroke="#000" stroke-width="1.00"/>
<path d="M840.39 657.10L840.39 660.10" stroke="#000" stroke-width="1.00"/>
<path d="M785.65 657.10L785.65 660.10" stroke="#000" stroke-width="1.00"/>
<path d="M844.22 657.10L844.22 660.10" stroke="#000" stroke-width="1.00"/>
<path d="M789.45 657.10L789.45 660.10" stroke="#000" stroke-width="1.00"/>
<path d="M847.55 657.10L847.55 660.10" stroke="#000" stroke-width="1.00"/>
<path d="M792.80 657.10L792.80 660.10" stroke="#000" stroke-width="1.00"/>
<path d="M850.48 657.10L850.48 660.10" stroke="#000" stroke-width="1.00"/>
<path d="M870.35 657.10L870.35 660.10" stroke="#000" stroke-width="1.00"/>
<rect x="684.70" y="657.10" width="11.50" height="3.20" fill="#000"/>
<path d="M685.60 657.10L685.60 662.50" stroke="#000" stroke-width="1.80"/>
<path d="M690.30 657.10L690.30 662.50" stroke="#000" stroke-width="1.80"/>
<path d="M695.20 657.10L695.20 662.50" stroke="#000" stroke-width="1.80"/>
<path d="M127.89 972.70L127.89 973.97L129.73 969.86L131.35 959.05L132.43 939.59L133.19 912.57L133.95 880.14L134.81 842.30L135.68 809.86L136.43 786.08L137.08 770.95L138.49 768.24L138.70 780.68L139.35 805.54L140.22 833.65L141.30 863.92L142.38 894.19L143.46 917.97L144.86 939.59L146.49 953.65L148.43 964.46L150.81 970.41L153.51 972.89L156.76 973.97L156.76 972.70Z" fill="#b5b5b5"/>
<path d="M127.89 973.97L129.73 969.86L131.35 959.05L132.43 939.59L133.19 912.57L133.95 880.14L134.81 842.30L135.68 809.86L136.43 786.08L137.08 770.95L138.49 768.24L138.70 780.68L139.35 805.54L140.22 833.65L141.30 863.92L142.38 894.19L143.46 917.97L144.86 939.59L146.49 953.65L148.43 964.46L150.81 970.41L153.51 972.89L156.76 973.97" fill="none" stroke="#505050" stroke-width="1.4" stroke-linejoin="round"/>
<path d="M75.20 752.80L75.20 974.60" stroke="#000" stroke-width="1.20"/>
<path d="M317.40 752.80L317.40 974.60" stroke="#000" stroke-width="1.20"/>
<path d="M75.20 974.00L317.40 974.00" stroke="#c6c6c6" stroke-width="1.00"/>
<path d="M67.40 972.70L75.20 972.70" stroke="#000" stroke-width="1.70"/>
<path d="M71.40 962.21L75.20 962.21" stroke="#000" stroke-width="1.00"/>
<path d="M71.40 951.71L75.20 951.71" stroke="#000" stroke-width="1.00"/>
<path d="M71.40 941.22L75.20 941.22" stroke="#000" stroke-width="1.00"/>
<path d="M67.40 930.72L75.20 930.72" stroke="#000" stroke-width="1.70"/>
<path d="M71.40 920.23L75.20 920.23" stroke="#000" stroke-width="1.00"/>
<path d="M71.40 909.73L75.20 909.73" stroke="#000" stroke-width="1.00"/>
<path d="M71.40 899.24L75.20 899.24" stroke="#000" stroke-width="1.00"/>
<path d="M67.40 888.74L75.20 888.74" stroke="#000" stroke-width="1.70"/>
<path d="M71.40 878.25L75.20 878.25" stroke="#000" stroke-width="1.00"/>
<path d="M71.40 867.75L75.20 867.75" stroke="#000" stroke-width="1.00"/>
<path d="M71.40 857.25L75.20 857.25" stroke="#000" stroke-width="1.00"/>
<path d="M67.40 846.76L75.20 846.76" stroke="#000" stroke-width="1.70"/>
<path d="M71.40 836.26L75.20 836.26" stroke="#000" stroke-width="1.00"/>
<path d="M71.40 825.77L75.20 825.77" stroke="#000" stroke-width="1.00"/>
<path d="M71.40 815.27L75.20 815.27" stroke="#000" stroke-width="1.00"/>
<path d="M67.40 804.78L75.20 804.78" stroke="#000" stroke-width="1.70"/>
<path d="M71.40 794.28L75.20 794.28" stroke="#000" stroke-width="1.00"/>
<path d="M71.40 783.79L75.20 783.79" stroke="#000" stroke-width="1.00"/>
<path d="M71.40 773.29L75.20 773.29" stroke="#000" stroke-width="1.00"/>
<path d="M67.40 762.80L75.20 762.80" stroke="#000" stroke-width="1.70"/>
<path d="M89.60 974.00L89.60 979.60" stroke="#000" stroke-width="1.90"/>
<path d="M169.70 974.00L169.70 979.60" stroke="#000" stroke-width="1.90"/>
<path d="M235.20 974.00L235.20 979.60" stroke="#000" stroke-width="1.90"/>
<path d="M292.50 974.00L292.50 979.60" stroke="#000" stroke-width="1.90"/>
<path d="M93.10 974.00L93.10 977.00" stroke="#000" stroke-width="1.00"/>
<path d="M96.60 974.00L96.60 977.00" stroke="#000" stroke-width="1.00"/>
<path d="M100.30 974.00L100.30 977.00" stroke="#000" stroke-width="1.00"/>
<path d="M104.20 974.00L104.20 977.00" stroke="#000" stroke-width="1.00"/>
<path d="M107.60 974.00L107.60 977.00" stroke="#000" stroke-width="1.00"/>
<path d="M111.80 974.00L111.80 977.00" stroke="#000" stroke-width="1.00"/>
<path d="M116.60 974.00L116.60 977.00" stroke="#000" stroke-width="1.00"/>
<path d="M121.40 974.00L121.40 977.00" stroke="#000" stroke-width="1.00"/>
<path d="M139.20 974.00L139.20 977.00" stroke="#000" stroke-width="1.00"/>
<path d="M143.90 974.00L143.90 977.00" stroke="#000" stroke-width="1.00"/>
<path d="M148.60 974.00L148.60 977.00" stroke="#000" stroke-width="1.00"/>
<path d="M153.10 974.00L153.10 977.00" stroke="#000" stroke-width="1.00"/>
<path d="M156.60 974.00L156.60 977.00" stroke="#000" stroke-width="1.00"/>
<path d="M159.70 974.00L159.70 977.00" stroke="#000" stroke-width="1.00"/>
<path d="M162.90 974.00L162.90 977.00" stroke="#000" stroke-width="1.00"/>
<path d="M165.80 974.00L165.80 977.00" stroke="#000" stroke-width="1.00"/>
<path d="M167.80 974.00L167.80 977.00" stroke="#000" stroke-width="1.00"/>
<path d="M189.42 974.00L189.42 977.00" stroke="#000" stroke-width="1.00"/>
<path d="M252.45 974.00L252.45 977.00" stroke="#000" stroke-width="1.00"/>
<path d="M200.95 974.00L200.95 977.00" stroke="#000" stroke-width="1.00"/>
<path d="M262.54 974.00L262.54 977.00" stroke="#000" stroke-width="1.00"/>
<path d="M209.13 974.00L209.13 977.00" stroke="#000" stroke-width="1.00"/>
<path d="M269.70 974.00L269.70 977.00" stroke="#000" stroke-width="1.00"/>
<path d="M215.48 974.00L215.48 977.00" stroke="#000" stroke-width="1.00"/>
<path d="M275.25 974.00L275.25 977.00" stroke="#000" stroke-width="1.00"/>
<path d="M220.67 974.00L220.67 977.00" stroke="#000" stroke-width="1.00"/>
<path d="M279.79 974.00L279.79 977.00" stroke="#000" stroke-width="1.00"/>
<path d="M225.05 974.00L225.05 977.00" stroke="#000" stroke-width="1.00"/>
<path d="M283.62 974.00L283.62 977.00" stroke="#000" stroke-width="1.00"/>
<path d="M228.85 974.00L228.85 977.00" stroke="#000" stroke-width="1.00"/>
<path d="M286.95 974.00L286.95 977.00" stroke="#000" stroke-width="1.00"/>
<path d="M232.20 974.00L232.20 977.00" stroke="#000" stroke-width="1.00"/>
<path d="M289.88 974.00L289.88 977.00" stroke="#000" stroke-width="1.00"/>
<path d="M309.75 974.00L309.75 977.00" stroke="#000" stroke-width="1.00"/>
<rect x="124.10" y="974.00" width="11.50" height="3.20" fill="#000"/>
<path d="M125.00 974.00L125.00 979.40" stroke="#000" stroke-width="1.80"/>
<path d="M129.70 974.00L129.70 979.40" stroke="#000" stroke-width="1.80"/>
<path d="M134.60 974.00L134.60 979.40" stroke="#000" stroke-width="1.80"/>
<path d="M404.32 972.70L404.32 973.97L405.95 972.03L407.03 959.05L407.89 934.19L408.54 901.76L409.19 863.92L409.84 831.49L410.49 804.46L411.14 786.08L411.78 774.19L412.22 770.41L413.08 770.41L413.51 777.43L414.16 796.89L414.92 826.08L415.89 858.51L416.97 890.95L418.05 917.97L419.46 939.59L421.08 953.65L422.70 961.76L424.32 965.54L426.49 968.24L429.19 970.08L431.89 971.27L435.14 971.49L438.38 972.35L441.62 973.11L449.19 973.11L451.89 973.97L467.57 973.97L467.57 972.70Z" fill="#b5b5b5"/>
<path d="M404.32 973.97L405.95 972.03L407.03 959.05L407.89 934.19L408.54 901.76L409.19 863.92L409.84 831.49L410.49 804.46L411.14 786.08L411.78 774.19L412.22 770.41L413.08 770.41L413.51 777.43L414.16 796.89L414.92 826.08L415.89 858.51L416.97 890.95L418.05 917.97L419.46 939.59L421.08 953.65L422.70 961.76L424.32 965.54L426.49 968.24L429.19 970.08L431.89 971.27L435.14 971.49L438.38 972.35L441.62 973.11L449.19 973.11L451.89 973.97L467.57 973.97" fill="none" stroke="#505050" stroke-width="1.4" stroke-linejoin="round"/>
<path d="M352.70 752.80L352.70 974.60" stroke="#000" stroke-width="1.20"/>
<path d="M594.90 752.80L594.90 974.60" stroke="#000" stroke-width="1.20"/>
<path d="M352.70 974.00L594.90 974.00" stroke="#c6c6c6" stroke-width="1.00"/>
<path d="M344.90 972.70L352.70 972.70" stroke="#000" stroke-width="1.70"/>
<path d="M348.90 962.21L352.70 962.21" stroke="#000" stroke-width="1.00"/>
<path d="M348.90 951.71L352.70 951.71" stroke="#000" stroke-width="1.00"/>
<path d="M348.90 941.22L352.70 941.22" stroke="#000" stroke-width="1.00"/>
<path d="M344.90 930.72L352.70 930.72" stroke="#000" stroke-width="1.70"/>
<path d="M348.90 920.23L352.70 920.23" stroke="#000" stroke-width="1.00"/>
<path d="M348.90 909.73L352.70 909.73" stroke="#000" stroke-width="1.00"/>
<path d="M348.90 899.24L352.70 899.24" stroke="#000" stroke-width="1.00"/>
<path d="M344.90 888.74L352.70 888.74" stroke="#000" stroke-width="1.70"/>
<path d="M348.90 878.25L352.70 878.25" stroke="#000" stroke-width="1.00"/>
<path d="M348.90 867.75L352.70 867.75" stroke="#000" stroke-width="1.00"/>
<path d="M348.90 857.25L352.70 857.25" stroke="#000" stroke-width="1.00"/>
<path d="M344.90 846.76L352.70 846.76" stroke="#000" stroke-width="1.70"/>
<path d="M348.90 836.26L352.70 836.26" stroke="#000" stroke-width="1.00"/>
<path d="M348.90 825.77L352.70 825.77" stroke="#000" stroke-width="1.00"/>
<path d="M348.90 815.27L352.70 815.27" stroke="#000" stroke-width="1.00"/>
<path d="M344.90 804.78L352.70 804.78" stroke="#000" stroke-width="1.70"/>
<path d="M348.90 794.28L352.70 794.28" stroke="#000" stroke-width="1.00"/>
<path d="M348.90 783.79L352.70 783.79" stroke="#000" stroke-width="1.00"/>
<path d="M348.90 773.29L352.70 773.29" stroke="#000" stroke-width="1.00"/>
<path d="M344.90 762.80L352.70 762.80" stroke="#000" stroke-width="1.70"/>
<path d="M367.10 974.00L367.10 979.60" stroke="#000" stroke-width="1.90"/>
<path d="M447.20 974.00L447.20 979.60" stroke="#000" stroke-width="1.90"/>
<path d="M512.70 974.00L512.70 979.60" stroke="#000" stroke-width="1.90"/>
<path d="M570.00 974.00L570.00 979.60" stroke="#000" stroke-width="1.90"/>
<path d="M370.60 974.00L370.60 977.00" stroke="#000" stroke-width="1.00"/>
<path d="M374.10 974.00L374.10 977.00" stroke="#000" stroke-width="1.00"/>
<path d="M377.80 974.00L377.80 977.00" stroke="#000" stroke-width="1.00"/>
<path d="M381.70 974.00L381.70 977.00" stroke="#000" stroke-width="1.00"/>
<path d="M385.10 974.00L385.10 977.00" stroke="#000" stroke-width="1.00"/>
<path d="M389.30 974.00L389.30 977.00" stroke="#000" stroke-width="1.00"/>
<path d="M394.10 974.00L394.10 977.00" stroke="#000" stroke-width="1.00"/>
<path d="M398.90 974.00L398.90 977.00" stroke="#000" stroke-width="1.00"/>
<path d="M416.70 974.00L416.70 977.00" stroke="#000" stroke-width="1.00"/>
<path d="M421.40 974.00L421.40 977.00" stroke="#000" stroke-width="1.00"/>
<path d="M426.10 974.00L426.10 977.00" stroke="#000" stroke-width="1.00"/>
<path d="M430.60 974.00L430.60 977.00" stroke="#000" stroke-width="1.00"/>
<path d="M434.10 974.00L434.10 977.00" stroke="#000" stroke-width="1.00"/>
<path d="M437.20 974.00L437.20 977.00" stroke="#000" stroke-width="1.00"/>
<path d="M440.40 974.00L440.40 977.00" stroke="#000" stroke-width="1.00"/>
<path d="M443.30 974.00L443.30 977.00" stroke="#000" stroke-width="1.00"/>
<path d="M445.30 974.00L445.30 977.00" stroke="#000" stroke-width="1.00"/>
<path d="M466.92 974.00L466.92 977.00" stroke="#000" stroke-width="1.00"/>
<path d="M529.95 974.00L529.95 977.00" stroke="#000" stroke-width="1.00"/>
<path d="M478.45 974.00L478.45 977.00" stroke="#000" stroke-width="1.00"/>
<path d="M540.04 974.00L540.04 977.00" stroke="#000" stroke-width="1.00"/>
<path d="M486.63 974.00L486.63 977.00" stroke="#000" stroke-width="1.00"/>
<path d="M547.20 974.00L547.20 977.00" stroke="#000" stroke-width="1.00"/>
<path d="M492.98 974.00L492.98 977.00" stroke="#000" stroke-width="1.00"/>
<path d="M552.75 974.00L552.75 977.00" stroke="#000" stroke-width="1.00"/>
<path d="M498.17 974.00L498.17 977.00" stroke="#000" stroke-width="1.00"/>
<path d="M557.29 974.00L557.29 977.00" stroke="#000" stroke-width="1.00"/>
<path d="M502.55 974.00L502.55 977.00" stroke="#000" stroke-width="1.00"/>
<path d="M561.12 974.00L561.12 977.00" stroke="#000" stroke-width="1.00"/>
<path d="M506.35 974.00L506.35 977.00" stroke="#000" stroke-width="1.00"/>
<path d="M564.45 974.00L564.45 977.00" stroke="#000" stroke-width="1.00"/>
<path d="M509.70 974.00L509.70 977.00" stroke="#000" stroke-width="1.00"/>
<path d="M567.38 974.00L567.38 977.00" stroke="#000" stroke-width="1.00"/>
<path d="M587.25 974.00L587.25 977.00" stroke="#000" stroke-width="1.00"/>
<rect x="401.60" y="974.00" width="11.50" height="3.20" fill="#000"/>
<path d="M402.50 974.00L402.50 979.40" stroke="#000" stroke-width="1.80"/>
<path d="M407.20 974.00L407.20 979.40" stroke="#000" stroke-width="1.80"/>
<path d="M412.10 974.00L412.10 979.40" stroke="#000" stroke-width="1.80"/>
<path d="M686.49 972.00L686.49 972.57L688.11 969.86L689.19 961.22L690.05 945.00L690.81 917.97L691.46 885.54L692.00 853.11L692.54 820.68L692.97 793.65L693.30 770.95L693.84 768.24L694.59 765.54L695.03 773.11L695.68 791.49L696.43 815.27L697.30 842.30L698.38 874.73L699.46 905.00L700.65 930.95L701.95 948.24L703.24 956.89L704.86 960.14L706.49 962.30L709.19 963.92L711.89 965.00L715.14 965.54L717.30 967.16L720.54 969.32L724.32 968.57L728.11 969.65L732.43 970.41L736.76 970.08L742.16 970.19L746.49 970.95L754.05 971.27L761.62 971.49L763.78 972.24L772.43 972.89L772.43 972.00Z" fill="#b5b5b5"/>
<path d="M686.49 972.57L688.11 969.86L689.19 961.22L690.05 945.00L690.81 917.97L691.46 885.54L692.00 853.11L692.54 820.68L692.97 793.65L693.30 770.95L693.84 768.24L694.59 765.54L695.03 773.11L695.68 791.49L696.43 815.27L697.30 842.30L698.38 874.73L699.46 905.00L700.65 930.95L701.95 948.24L703.24 956.89L704.86 960.14L706.49 962.30L709.19 963.92L711.89 965.00L715.14 965.54L717.30 967.16L720.54 969.32L724.32 968.57L728.11 969.65L732.43 970.41L736.76 970.08L742.16 970.19L746.49 970.95L754.05 971.27L761.62 971.49L763.78 972.24L772.43 972.89" fill="none" stroke="#505050" stroke-width="1.4" stroke-linejoin="round"/>
<path d="M635.80 752.40H877.60V973.90" fill="none" stroke="#000" stroke-width="1.20"/>
<path d="M635.80 751.80L635.80 973.90" stroke="#000" stroke-width="1.20"/>
<path d="M635.20 973.30L878.20 973.30" stroke="#000" stroke-width="1.20"/>
<path d="M628.00 972.00L635.80 972.00" stroke="#000" stroke-width="1.70"/>
<path d="M632.00 961.52L635.80 961.52" stroke="#000" stroke-width="1.00"/>
<path d="M632.00 951.04L635.80 951.04" stroke="#000" stroke-width="1.00"/>
<path d="M632.00 940.56L635.80 940.56" stroke="#000" stroke-width="1.00"/>
<path d="M628.00 930.08L635.80 930.08" stroke="#000" stroke-width="1.70"/>
<path d="M632.00 919.60L635.80 919.60" stroke="#000" stroke-width="1.00"/>
<path d="M632.00 909.12L635.80 909.12" stroke="#000" stroke-width="1.00"/>
<path d="M632.00 898.64L635.80 898.64" stroke="#000" stroke-width="1.00"/>
<path d="M628.00 888.16L635.80 888.16" stroke="#000" stroke-width="1.70"/>
<path d="M632.00 877.68L635.80 877.68" stroke="#000" stroke-width="1.00"/>
<path d="M632.00 867.20L635.80 867.20" stroke="#000" stroke-width="1.00"/>
<path d="M632.00 856.72L635.80 856.72" stroke="#000" stroke-width="1.00"/>
<path d="M628.00 846.24L635.80 846.24" stroke="#000" stroke-width="1.70"/>
<path d="M632.00 835.76L635.80 835.76" stroke="#000" stroke-width="1.00"/>
<path d="M632.00 825.28L635.80 825.28" stroke="#000" stroke-width="1.00"/>
<path d="M632.00 814.80L635.80 814.80" stroke="#000" stroke-width="1.00"/>
<path d="M628.00 804.32L635.80 804.32" stroke="#000" stroke-width="1.70"/>
<path d="M632.00 793.84L635.80 793.84" stroke="#000" stroke-width="1.00"/>
<path d="M632.00 783.36L635.80 783.36" stroke="#000" stroke-width="1.00"/>
<path d="M632.00 772.88L635.80 772.88" stroke="#000" stroke-width="1.00"/>
<path d="M628.00 762.40L635.80 762.40" stroke="#000" stroke-width="1.70"/>
<path d="M650.20 973.30L650.20 978.90" stroke="#000" stroke-width="1.90"/>
<path d="M730.30 973.30L730.30 978.90" stroke="#000" stroke-width="1.90"/>
<path d="M795.80 973.30L795.80 978.90" stroke="#000" stroke-width="1.90"/>
<path d="M853.10 973.30L853.10 978.90" stroke="#000" stroke-width="1.90"/>
<path d="M653.70 973.30L653.70 976.30" stroke="#000" stroke-width="1.00"/>
<path d="M657.20 973.30L657.20 976.30" stroke="#000" stroke-width="1.00"/>
<path d="M660.90 973.30L660.90 976.30" stroke="#000" stroke-width="1.00"/>
<path d="M664.80 973.30L664.80 976.30" stroke="#000" stroke-width="1.00"/>
<path d="M668.20 973.30L668.20 976.30" stroke="#000" stroke-width="1.00"/>
<path d="M672.40 973.30L672.40 976.30" stroke="#000" stroke-width="1.00"/>
<path d="M677.20 973.30L677.20 976.30" stroke="#000" stroke-width="1.00"/>
<path d="M682.00 973.30L682.00 976.30" stroke="#000" stroke-width="1.00"/>
<path d="M699.80 973.30L699.80 976.30" stroke="#000" stroke-width="1.00"/>
<path d="M704.50 973.30L704.50 976.30" stroke="#000" stroke-width="1.00"/>
<path d="M709.20 973.30L709.20 976.30" stroke="#000" stroke-width="1.00"/>
<path d="M713.70 973.30L713.70 976.30" stroke="#000" stroke-width="1.00"/>
<path d="M717.20 973.30L717.20 976.30" stroke="#000" stroke-width="1.00"/>
<path d="M720.30 973.30L720.30 976.30" stroke="#000" stroke-width="1.00"/>
<path d="M723.50 973.30L723.50 976.30" stroke="#000" stroke-width="1.00"/>
<path d="M726.40 973.30L726.40 976.30" stroke="#000" stroke-width="1.00"/>
<path d="M728.40 973.30L728.40 976.30" stroke="#000" stroke-width="1.00"/>
<path d="M750.02 973.30L750.02 976.30" stroke="#000" stroke-width="1.00"/>
<path d="M813.05 973.30L813.05 976.30" stroke="#000" stroke-width="1.00"/>
<path d="M761.55 973.30L761.55 976.30" stroke="#000" stroke-width="1.00"/>
<path d="M823.14 973.30L823.14 976.30" stroke="#000" stroke-width="1.00"/>
<path d="M769.73 973.30L769.73 976.30" stroke="#000" stroke-width="1.00"/>
<path d="M830.30 973.30L830.30 976.30" stroke="#000" stroke-width="1.00"/>
<path d="M776.08 973.30L776.08 976.30" stroke="#000" stroke-width="1.00"/>
<path d="M835.85 973.30L835.85 976.30" stroke="#000" stroke-width="1.00"/>
<path d="M781.27 973.30L781.27 976.30" stroke="#000" stroke-width="1.00"/>
<path d="M840.39 973.30L840.39 976.30" stroke="#000" stroke-width="1.00"/>
<path d="M785.65 973.30L785.65 976.30" stroke="#000" stroke-width="1.00"/>
<path d="M844.22 973.30L844.22 976.30" stroke="#000" stroke-width="1.00"/>
<path d="M789.45 973.30L789.45 976.30" stroke="#000" stroke-width="1.00"/>
<path d="M847.55 973.30L847.55 976.30" stroke="#000" stroke-width="1.00"/>
<path d="M792.80 973.30L792.80 976.30" stroke="#000" stroke-width="1.00"/>
<path d="M850.48 973.30L850.48 976.30" stroke="#000" stroke-width="1.00"/>
<path d="M870.35 973.30L870.35 976.30" stroke="#000" stroke-width="1.00"/>
<rect x="684.70" y="973.30" width="11.50" height="3.20" fill="#000"/>
<path d="M685.60 973.30L685.60 978.70" stroke="#000" stroke-width="1.80"/>
<path d="M690.30 973.30L690.30 978.70" stroke="#000" stroke-width="1.80"/>
<path d="M695.20 973.30L695.20 978.70" stroke="#000" stroke-width="1.80"/>
<path d="M76.30 1020.60L874.00 1020.60" stroke="#000" stroke-width="3.00"/>
<path d="M853.6 1008.6L875.6 1020.6L853.6 1032.9" fill="none" stroke="#000" stroke-width="3.1" stroke-linejoin="miter" stroke-linecap="round"/>
<rect x="1165.10" y="327.50" width="22.37" height="153.30" fill="#000" stroke="#000" stroke-width="2.40"/>
<rect x="1187.47" y="327.50" width="22.37" height="153.30" fill="#7f7f7f" stroke="#000" stroke-width="2.40"/>
<rect x="1209.83" y="327.50" width="22.37" height="153.30" fill="#77933c" stroke="#000" stroke-width="2.40"/>
<rect x="1265.70" y="369.40" width="22.37" height="111.40" fill="#000" stroke="#000" stroke-width="2.40"/>
<rect x="1288.07" y="319.30" width="22.37" height="161.50" fill="#7f7f7f" stroke="#000" stroke-width="2.40"/>
<rect x="1310.43" y="322.90" width="22.37" height="157.90" fill="#77933c" stroke="#000" stroke-width="2.40"/>
<path d="M1276.88 364.30L1276.88 369.20" stroke="#000" stroke-width="2.30"/>
<path d="M1269.53 364.30L1284.23 364.30" stroke="#000" stroke-width="2.30"/>
<path d="M1299.25 313.20L1299.25 324.80" stroke="#000" stroke-width="2.30"/>
<path d="M1291.90 313.20L1306.60 313.20" stroke="#000" stroke-width="2.30"/>
<path d="M1291.90 324.80L1306.60 324.80" stroke="#000" stroke-width="2.30"/>
<path d="M1321.62 321.00L1321.62 323.90" stroke="#000" stroke-width="2.30"/>
<path d="M1314.27 321.00L1328.97 321.00" stroke="#000" stroke-width="2.30"/>
<path d="M1314.27 323.90L1328.97 323.90" stroke="#000" stroke-width="2.30"/>
<rect x="1366.30" y="377.60" width="22.37" height="103.20" fill="#000" stroke="#000" stroke-width="2.40"/>
<rect x="1388.67" y="377.10" width="22.37" height="103.70" fill="#7f7f7f" stroke="#000" stroke-width="2.40"/>
<rect x="1411.03" y="329.40" width="22.37" height="151.40" fill="#77933c" stroke="#000" stroke-width="2.40"/>
<path d="M1377.48 353.00L1377.48 377.40" stroke="#000" stroke-width="2.30"/>
<path d="M1370.13 353.00L1384.83 353.00" stroke="#000" stroke-width="2.30"/>
<path d="M1399.85 358.50L1399.85 393.50" stroke="#000" stroke-width="2.30"/>
<path d="M1392.50 358.50L1407.20 358.50" stroke="#000" stroke-width="2.30"/>
<path d="M1392.50 393.50L1407.20 393.50" stroke="#000" stroke-width="2.30"/>
<path d="M1422.22 321.70L1422.22 335.40" stroke="#000" stroke-width="2.30"/>
<path d="M1414.87 321.70L1429.57 321.70" stroke="#000" stroke-width="2.30"/>
<path d="M1414.87 335.40L1429.57 335.40" stroke="#000" stroke-width="2.30"/>
<rect x="1466.90" y="438.50" width="22.37" height="42.30" fill="#000" stroke="#000" stroke-width="2.40"/>
<rect x="1489.27" y="426.50" width="22.37" height="54.30" fill="#7f7f7f" stroke="#000" stroke-width="2.40"/>
<rect x="1511.63" y="375.90" width="22.37" height="104.90" fill="#77933c" stroke="#000" stroke-width="2.40"/>
<path d="M1478.08 434.90L1478.08 438.30" stroke="#000" stroke-width="2.30"/>
<path d="M1470.73 434.90L1485.43 434.90" stroke="#000" stroke-width="2.30"/>
<path d="M1500.45 415.20L1500.45 436.40" stroke="#000" stroke-width="2.30"/>
<path d="M1493.10 415.20L1507.80 415.20" stroke="#000" stroke-width="2.30"/>
<path d="M1493.10 436.40L1507.80 436.40" stroke="#000" stroke-width="2.30"/>
<path d="M1522.82 366.70L1522.82 382.90" stroke="#000" stroke-width="2.30"/>
<path d="M1515.47 366.70L1530.17 366.70" stroke="#000" stroke-width="2.30"/>
<path d="M1515.47 382.90L1530.17 382.90" stroke="#000" stroke-width="2.30"/>
<path d="M1148.20 234.80L1148.20 489.80" stroke="#868686" stroke-width="2.00"/>
<path d="M1139.00 480.30L1551.60 480.30" stroke="#868686" stroke-width="2.00"/>
<path d="M1139.00 449.74L1148.20 449.74" stroke="#868686" stroke-width="2.00"/>
<path d="M1139.00 419.18L1148.20 419.18" stroke="#868686" stroke-width="2.00"/>
<path d="M1139.00 388.61L1148.20 388.61" stroke="#868686" stroke-width="2.00"/>
<path d="M1139.00 358.05L1148.20 358.05" stroke="#868686" stroke-width="2.00"/>
<path d="M1139.00 327.49L1148.20 327.49" stroke="#868686" stroke-width="2.00"/>
<path d="M1139.00 296.93L1148.20 296.93" stroke="#868686" stroke-width="2.00"/>
<path d="M1139.00 266.36L1148.20 266.36" stroke="#868686" stroke-width="2.00"/>
<path d="M1139.00 235.80L1148.20 235.80" stroke="#868686" stroke-width="2.00"/>
<path d="M1248.80 480.30L1248.80 489.80" stroke="#868686" stroke-width="2.00"/>
<path d="M1349.40 480.30L1349.40 489.80" stroke="#868686" stroke-width="2.00"/>
<path d="M1450.00 480.30L1450.00 489.80" stroke="#868686" stroke-width="2.00"/>
<path d="M1550.60 480.30L1550.60 489.80" stroke="#868686" stroke-width="2.00"/>
<rect x="1177.30" y="190.30" width="14.50" height="14.00" fill="#000" stroke="#000" stroke-width="2.00"/>
<rect x="1177.30" y="222.00" width="14.50" height="14.00" fill="#7f7f7f" stroke="#000" stroke-width="2.00"/>
<rect x="1177.30" y="253.80" width="14.50" height="14.00" fill="#77933c" stroke="#000" stroke-width="2.00"/>
<rect x="1166.90" y="816.80" width="21.83" height="156.70" fill="#000" stroke="#000" stroke-width="2.40"/>
<rect x="1188.73" y="816.80" width="21.83" height="156.70" fill="#7f7f7f" stroke="#000" stroke-width="2.40"/>
<rect x="1210.57" y="816.80" width="21.83" height="156.70" fill="#77933c" stroke="#000" stroke-width="2.40"/>
<rect x="1266.85" y="856.30" width="21.83" height="117.20" fill="#000" stroke="#000" stroke-width="2.40"/>
<rect x="1288.68" y="811.10" width="21.83" height="162.40" fill="#7f7f7f" stroke="#000" stroke-width="2.40"/>
<rect x="1310.52" y="803.10" width="21.83" height="170.40" fill="#77933c" stroke="#000" stroke-width="2.40"/>
<path d="M1277.77 846.20L1277.77 856.10" stroke="#000" stroke-width="2.30"/>
<path d="M1270.42 846.20L1285.12 846.20" stroke="#000" stroke-width="2.30"/>
<path d="M1299.60 803.10L1299.60 817.30" stroke="#000" stroke-width="2.30"/>
<path d="M1292.25 803.10L1306.95 803.10" stroke="#000" stroke-width="2.30"/>
<path d="M1292.25 817.30L1306.95 817.30" stroke="#000" stroke-width="2.30"/>
<path d="M1321.43 783.40L1321.43 822.40" stroke="#000" stroke-width="2.30"/>
<path d="M1314.08 783.40L1328.78 783.40" stroke="#000" stroke-width="2.30"/>
<path d="M1314.08 822.40L1328.78 822.40" stroke="#000" stroke-width="2.30"/>
<rect x="1366.80" y="922.60" width="21.83" height="50.90" fill="#000" stroke="#000" stroke-width="2.40"/>
<rect x="1388.63" y="886.20" width="21.83" height="87.30" fill="#7f7f7f" stroke="#000" stroke-width="2.40"/>
<rect x="1410.47" y="787.90" width="21.83" height="185.60" fill="#77933c" stroke="#000" stroke-width="2.40"/>
<path d="M1377.72 904.30L1377.72 922.40" stroke="#000" stroke-width="2.30"/>
<path d="M1370.37 904.30L1385.07 904.30" stroke="#000" stroke-width="2.30"/>
<path d="M1399.55 874.90L1399.55 896.30" stroke="#000" stroke-width="2.30"/>
<path d="M1392.20 874.90L1406.90 874.90" stroke="#000" stroke-width="2.30"/>
<path d="M1392.20 896.30L1406.90 896.30" stroke="#000" stroke-width="2.30"/>
<path d="M1421.38 742.40L1421.38 832.50" stroke="#000" stroke-width="2.30"/>
<path d="M1414.03 742.40L1428.73 742.40" stroke="#000" stroke-width="2.30"/>
<path d="M1414.03 832.50L1428.73 832.50" stroke="#000" stroke-width="2.30"/>
<rect x="1466.75" y="969.30" width="21.83" height="4.20" fill="#000" stroke="#000" stroke-width="2.40"/>
<rect x="1488.58" y="961.60" width="21.83" height="11.90" fill="#7f7f7f" stroke="#000" stroke-width="2.40"/>
<rect x="1510.42" y="965.20" width="21.83" height="8.30" fill="#77933c" stroke="#000" stroke-width="2.40"/>
<path d="M1477.67 965.70L1477.67 969.10" stroke="#000" stroke-width="2.30"/>
<path d="M1470.32 965.70L1485.02 965.70" stroke="#000" stroke-width="2.30"/>
<path d="M1499.50 952.00L1499.50 970.50" stroke="#000" stroke-width="2.30"/>
<path d="M1492.15 952.00L1506.85 952.00" stroke="#000" stroke-width="2.30"/>
<path d="M1492.15 970.50L1506.85 970.50" stroke="#000" stroke-width="2.30"/>
<path d="M1521.33 960.20L1521.33 968.10" stroke="#000" stroke-width="2.30"/>
<path d="M1513.98 960.20L1528.68 960.20" stroke="#000" stroke-width="2.30"/>
<path d="M1513.98 968.10L1528.68 968.10" stroke="#000" stroke-width="2.30"/>
<path d="M1150.20 721.70L1150.20 982.60" stroke="#868686" stroke-width="2.00"/>
<path d="M1140.70 973.00L1551.00 973.00" stroke="#868686" stroke-width="2.00"/>
<path d="M1140.70 941.71L1150.20 941.71" stroke="#868686" stroke-width="2.00"/>
<path d="M1140.70 910.42L1150.20 910.42" stroke="#868686" stroke-width="2.00"/>
<path d="M1140.70 879.14L1150.20 879.14" stroke="#868686" stroke-width="2.00"/>
<path d="M1140.70 847.85L1150.20 847.85" stroke="#868686" stroke-width="2.00"/>
<path d="M1140.70 816.56L1150.20 816.56" stroke="#868686" stroke-width="2.00"/>
<path d="M1140.70 785.28L1150.20 785.28" stroke="#868686" stroke-width="2.00"/>
<path d="M1140.70 753.99L1150.20 753.99" stroke="#868686" stroke-width="2.00"/>
<path d="M1140.70 722.70L1150.20 722.70" stroke="#868686" stroke-width="2.00"/>
<path d="M1250.15 973.00L1250.15 982.60" stroke="#868686" stroke-width="2.00"/>
<path d="M1350.10 973.00L1350.10 982.60" stroke="#868686" stroke-width="2.00"/>
<path d="M1450.05 973.00L1450.05 982.60" stroke="#868686" stroke-width="2.00"/>
<path d="M1550.00 973.00L1550.00 982.60" stroke="#868686" stroke-width="2.00"/>
<rect x="294.30" y="1412.90" width="40.20" height="210.50" fill="#000"/>
<rect x="389.50" y="1423.90" width="40.80" height="199.50" fill="#000"/>
<path d="M409.90 1415.10L409.90 1424.90" stroke="#000" stroke-width="2.50"/>
<path d="M402.60 1415.10L417.20 1415.10" stroke="#000" stroke-width="2.20"/>
<rect x="485.80" y="1469.50" width="40.00" height="153.90" fill="#000"/>
<path d="M505.80 1463.30L505.80 1470.50" stroke="#000" stroke-width="2.50"/>
<path d="M498.50 1463.30L513.10 1463.30" stroke="#000" stroke-width="2.20"/>
<rect x="581.60" y="1482.70" width="40.50" height="140.70" fill="#000"/>
<path d="M601.85 1476.80L601.85 1483.70" stroke="#000" stroke-width="2.50"/>
<path d="M594.55 1476.80L609.15 1476.80" stroke="#000" stroke-width="2.20"/>
<path d="M266.10 1370.00L266.10 1631.80" stroke="#868686" stroke-width="2.00"/>
<path d="M257.00 1623.40L651.90 1623.40" stroke="#868686" stroke-width="2.00"/>
<path d="M257.00 1581.33L266.10 1581.33" stroke="#868686" stroke-width="2.00"/>
<path d="M257.00 1539.27L266.10 1539.27" stroke="#868686" stroke-width="2.00"/>
<path d="M257.00 1497.20L266.10 1497.20" stroke="#868686" stroke-width="2.00"/>
<path d="M257.00 1455.13L266.10 1455.13" stroke="#868686" stroke-width="2.00"/>
<path d="M257.00 1413.07L266.10 1413.07" stroke="#868686" stroke-width="2.00"/>
<path d="M257.00 1371.00L266.10 1371.00" stroke="#868686" stroke-width="2.00"/>
<path d="M362.30 1623.40L362.30 1631.80" stroke="#868686" stroke-width="2.00"/>
<path d="M458.50 1623.40L458.50 1631.80" stroke="#868686" stroke-width="2.00"/>
<path d="M554.70 1623.40L554.70 1631.80" stroke="#868686" stroke-width="2.00"/>
<path d="M650.90 1623.40L650.90 1631.80" stroke="#868686" stroke-width="2.00"/>
<path d="M313.00 1308.50L602.50 1308.50" stroke="#000" stroke-width="2.50"/>
<path d="M313.00 1341.50L508.00 1341.50" stroke="#000" stroke-width="2.50"/>
<path d="M407.20 1375.00L602.50 1375.00" stroke="#000" stroke-width="2.50"/>
<path d="M406.40 1403.40L508.00 1403.40" stroke="#000" stroke-width="2.50"/>
<rect x="785.20" y="1413.40" width="41.10" height="211.10" fill="#000"/>
<rect x="883.40" y="1465.00" width="41.60" height="159.50" fill="#000"/>
<path d="M904.20 1455.50L904.20 1466.00" stroke="#000" stroke-width="2.50"/>
<path d="M896.90 1455.50L911.50 1455.50" stroke="#000" stroke-width="2.20"/>
<rect x="982.60" y="1509.90" width="41.10" height="114.60" fill="#000"/>
<path d="M1003.15 1502.60L1003.15 1510.90" stroke="#000" stroke-width="2.50"/>
<path d="M995.85 1502.60L1010.45 1502.60" stroke="#000" stroke-width="2.20"/>
<rect x="1081.00" y="1553.40" width="41.10" height="71.10" fill="#000"/>
<path d="M1101.55 1548.10L1101.55 1554.40" stroke="#000" stroke-width="2.50"/>
<path d="M1094.25 1548.10L1108.85 1548.10" stroke="#000" stroke-width="2.20"/>
<path d="M756.40 1370.30L756.40 1632.90" stroke="#868686" stroke-width="2.00"/>
<path d="M747.00 1624.50L1151.90 1624.50" stroke="#868686" stroke-width="2.00"/>
<path d="M747.00 1582.30L756.40 1582.30" stroke="#868686" stroke-width="2.00"/>
<path d="M747.00 1540.10L756.40 1540.10" stroke="#868686" stroke-width="2.00"/>
<path d="M747.00 1497.90L756.40 1497.90" stroke="#868686" stroke-width="2.00"/>
<path d="M747.00 1455.70L756.40 1455.70" stroke="#868686" stroke-width="2.00"/>
<path d="M747.00 1413.50L756.40 1413.50" stroke="#868686" stroke-width="2.00"/>
<path d="M747.00 1371.30L756.40 1371.30" stroke="#868686" stroke-width="2.00"/>
<path d="M855.02 1624.50L855.02 1632.90" stroke="#868686" stroke-width="2.00"/>
<path d="M953.65 1624.50L953.65 1632.90" stroke="#868686" stroke-width="2.00"/>
<path d="M1052.28 1624.50L1052.28 1632.90" stroke="#868686" stroke-width="2.00"/>
<path d="M1150.90 1624.50L1150.90 1632.90" stroke="#868686" stroke-width="2.00"/>
<path d="M809.70 1311.00L1099.20 1311.00" stroke="#000" stroke-width="2.50"/>
<path d="M810.00 1342.40L1005.00 1342.40" stroke="#000" stroke-width="2.50"/>
<path d="M810.00 1374.80L911.80 1374.80" stroke="#000" stroke-width="2.50"/>
<path d="M903.90 1409.20L1099.20 1409.20" stroke="#000" stroke-width="2.50"/>
<path d="M903.30 1437.90L1005.00 1437.90" stroke="#000" stroke-width="2.50"/>
<path d="M997.70 1469.50L1099.20 1469.50" stroke="#000" stroke-width="2.50"/>
<rect x="1306.50" y="1413.00" width="41.00" height="209.70" fill="#000"/>
<rect x="1405.00" y="1417.40" width="41.30" height="205.30" fill="#000"/>
<path d="M1425.65 1416.20L1425.65 1418.40" stroke="#000" stroke-width="2.50"/>
<path d="M1418.35 1416.20L1432.95 1416.20" stroke="#000" stroke-width="2.20"/>
<rect x="1503.20" y="1478.20" width="41.00" height="144.50" fill="#000"/>
<path d="M1523.70 1467.80L1523.70 1479.20" stroke="#000" stroke-width="2.50"/>
<path d="M1516.40 1467.80L1531.00 1467.80" stroke="#000" stroke-width="2.20"/>
<rect x="1601.20" y="1499.40" width="41.30" height="123.30" fill="#000"/>
<path d="M1621.85 1491.10L1621.85 1500.40" stroke="#000" stroke-width="2.50"/>
<path d="M1614.55 1491.10L1629.15 1491.10" stroke="#000" stroke-width="2.20"/>
<path d="M1277.60 1370.40L1277.60 1631.10" stroke="#868686" stroke-width="2.00"/>
<path d="M1268.40 1622.70L1672.40 1622.70" stroke="#868686" stroke-width="2.00"/>
<path d="M1268.40 1580.82L1277.60 1580.82" stroke="#868686" stroke-width="2.00"/>
<path d="M1268.40 1538.93L1277.60 1538.93" stroke="#868686" stroke-width="2.00"/>
<path d="M1268.40 1497.05L1277.60 1497.05" stroke="#868686" stroke-width="2.00"/>
<path d="M1268.40 1455.17L1277.60 1455.17" stroke="#868686" stroke-width="2.00"/>
<path d="M1268.40 1413.28L1277.60 1413.28" stroke="#868686" stroke-width="2.00"/>
<path d="M1268.40 1371.40L1277.60 1371.40" stroke="#868686" stroke-width="2.00"/>
<path d="M1376.05 1622.70L1376.05 1631.10" stroke="#868686" stroke-width="2.00"/>
<path d="M1474.50 1622.70L1474.50 1631.10" stroke="#868686" stroke-width="2.00"/>
<path d="M1572.95 1622.70L1572.95 1631.10" stroke="#868686" stroke-width="2.00"/>
<path d="M1671.40 1622.70L1671.40 1631.10" stroke="#868686" stroke-width="2.00"/>
<path d="M1328.20 1304.80L1617.70 1304.80" stroke="#000" stroke-width="2.50"/>
<path d="M1328.20 1336.40L1523.70 1336.40" stroke="#000" stroke-width="2.50"/>
<path d="M1422.50 1366.30L1617.70 1366.30" stroke="#000" stroke-width="2.50"/>
<path d="M1422.00 1399.00L1523.70 1399.00" stroke="#000" stroke-width="2.50"/>
<rect x="291.60" y="1852.60" width="40.30" height="209.10" fill="#000"/>
<rect x="387.40" y="1921.50" width="40.20" height="140.20" fill="#000"/>
<path d="M407.50 1913.00L407.50 1922.50" stroke="#000" stroke-width="2.50"/>
<path d="M400.20 1913.00L414.80 1913.00" stroke="#000" stroke-width="2.20"/>
<rect x="483.20" y="1904.50" width="39.90" height="157.20" fill="#000"/>
<path d="M503.15 1893.00L503.15 1905.50" stroke="#000" stroke-width="2.50"/>
<path d="M495.85 1893.00L510.45 1893.00" stroke="#000" stroke-width="2.20"/>
<rect x="578.60" y="1975.00" width="40.30" height="86.70" fill="#000"/>
<path d="M598.75 1969.70L598.75 1976.00" stroke="#000" stroke-width="2.50"/>
<path d="M591.45 1969.70L606.05 1969.70" stroke="#000" stroke-width="2.20"/>
<path d="M264.30 1810.70L264.30 2070.10" stroke="#868686" stroke-width="2.00"/>
<path d="M254.90 2061.70L648.10 2061.70" stroke="#868686" stroke-width="2.00"/>
<path d="M254.90 2020.03L264.30 2020.03" stroke="#868686" stroke-width="2.00"/>
<path d="M254.90 1978.37L264.30 1978.37" stroke="#868686" stroke-width="2.00"/>
<path d="M254.90 1936.70L264.30 1936.70" stroke="#868686" stroke-width="2.00"/>
<path d="M254.90 1895.03L264.30 1895.03" stroke="#868686" stroke-width="2.00"/>
<path d="M254.90 1853.37L264.30 1853.37" stroke="#868686" stroke-width="2.00"/>
<path d="M254.90 1811.70L264.30 1811.70" stroke="#868686" stroke-width="2.00"/>
<path d="M360.00 2061.70L360.00 2070.10" stroke="#868686" stroke-width="2.00"/>
<path d="M455.70 2061.70L455.70 2070.10" stroke="#868686" stroke-width="2.00"/>
<path d="M551.40 2061.70L551.40 2070.10" stroke="#868686" stroke-width="2.00"/>
<path d="M647.10 2061.70L647.10 2070.10" stroke="#868686" stroke-width="2.00"/>
<path d="M307.20 1785.20L596.80 1785.20" stroke="#000" stroke-width="2.50"/>
<path d="M307.20 1815.40L502.80 1815.40" stroke="#000" stroke-width="2.50"/>
<path d="M307.20 1844.90L408.70 1844.90" stroke="#000" stroke-width="2.50"/>
<path d="M403.50 1853.60L598.60 1853.60" stroke="#000" stroke-width="2.50"/>
<path d="M497.10 1883.50L598.60 1883.50" stroke="#000" stroke-width="2.50"/>
<rect x="785.20" y="1852.60" width="41.70" height="208.20" fill="#000"/>
<rect x="884.20" y="2043.10" width="41.70" height="17.70" fill="#000"/>
<path d="M905.05 2039.60L905.05 2044.10" stroke="#000" stroke-width="2.50"/>
<path d="M897.75 2039.60L912.35 2039.60" stroke="#000" stroke-width="2.20"/>
<rect x="983.50" y="1944.10" width="41.10" height="116.70" fill="#000"/>
<path d="M1004.05 1930.60L1004.05 1945.10" stroke="#000" stroke-width="2.50"/>
<path d="M996.75 1930.60L1011.35 1930.60" stroke="#000" stroke-width="2.20"/>
<rect x="1082.50" y="2049.60" width="41.70" height="11.20" fill="#000"/>
<path d="M1103.35 2045.20L1103.35 2050.60" stroke="#000" stroke-width="2.50"/>
<path d="M1096.05 2045.20L1110.65 2045.20" stroke="#000" stroke-width="2.20"/>
<path d="M756.40 1810.70L756.40 2069.20" stroke="#868686" stroke-width="2.00"/>
<path d="M747.00 2060.80L1154.00 2060.80" stroke="#868686" stroke-width="2.00"/>
<path d="M747.00 2019.28L756.40 2019.28" stroke="#868686" stroke-width="2.00"/>
<path d="M747.00 1977.77L756.40 1977.77" stroke="#868686" stroke-width="2.00"/>
<path d="M747.00 1936.25L756.40 1936.25" stroke="#868686" stroke-width="2.00"/>
<path d="M747.00 1894.73L756.40 1894.73" stroke="#868686" stroke-width="2.00"/>
<path d="M747.00 1853.22L756.40 1853.22" stroke="#868686" stroke-width="2.00"/>
<path d="M747.00 1811.70L756.40 1811.70" stroke="#868686" stroke-width="2.00"/>
<path d="M855.55 2060.80L855.55 2069.20" stroke="#868686" stroke-width="2.00"/>
<path d="M954.70 2060.80L954.70 2069.20" stroke="#868686" stroke-width="2.00"/>
<path d="M1053.85 2060.80L1053.85 2069.20" stroke="#868686" stroke-width="2.00"/>
<path d="M1153.00 2060.80L1153.00 2069.20" stroke="#868686" stroke-width="2.00"/>
<path d="M805.70 1784.60L1095.30 1784.60" stroke="#000" stroke-width="2.50"/>
<path d="M805.70 1815.40L1001.30 1815.40" stroke="#000" stroke-width="2.50"/>
<path d="M806.10 1843.40L907.80 1843.40" stroke="#000" stroke-width="2.50"/>
<path d="M899.50 1901.40L1001.30 1901.40" stroke="#000" stroke-width="2.50"/>
<path d="M993.70 1917.90L1095.30 1917.90" stroke="#000" stroke-width="2.50"/>
<rect x="1307.10" y="1852.50" width="41.20" height="209.10" fill="#000"/>
<rect x="1405.60" y="1879.90" width="40.70" height="181.70" fill="#000"/>
<path d="M1425.95 1850.80L1425.95 1880.90" stroke="#000" stroke-width="2.50"/>
<path d="M1418.65 1850.80L1433.25 1850.80" stroke="#000" stroke-width="2.20"/>
<rect x="1503.80" y="2049.50" width="40.70" height="12.10" fill="#000"/>
<path d="M1524.15 2043.60L1524.15 2050.50" stroke="#000" stroke-width="2.50"/>
<path d="M1516.85 2043.60L1531.45 2043.60" stroke="#000" stroke-width="2.20"/>
<rect x="1601.80" y="2052.70" width="41.30" height="8.90" fill="#000"/>
<path d="M1622.45 2046.80L1622.45 2053.70" stroke="#000" stroke-width="2.50"/>
<path d="M1615.15 2046.80L1629.75 2046.80" stroke="#000" stroke-width="2.20"/>
<path d="M1278.20 1810.70L1278.20 2070.00" stroke="#868686" stroke-width="2.00"/>
<path d="M1269.30 2061.60L1673.00 2061.60" stroke="#868686" stroke-width="2.00"/>
<path d="M1269.30 2019.95L1278.20 2019.95" stroke="#868686" stroke-width="2.00"/>
<path d="M1269.30 1978.30L1278.20 1978.30" stroke="#868686" stroke-width="2.00"/>
<path d="M1269.30 1936.65L1278.20 1936.65" stroke="#868686" stroke-width="2.00"/>
<path d="M1269.30 1895.00L1278.20 1895.00" stroke="#868686" stroke-width="2.00"/>
<path d="M1269.30 1853.35L1278.20 1853.35" stroke="#868686" stroke-width="2.00"/>
<path d="M1269.30 1811.70L1278.20 1811.70" stroke="#868686" stroke-width="2.00"/>
<path d="M1376.65 2061.60L1376.65 2070.00" stroke="#868686" stroke-width="2.00"/>
<path d="M1475.10 2061.60L1475.10 2070.00" stroke="#868686" stroke-width="2.00"/>
<path d="M1573.55 2061.60L1573.55 2070.00" stroke="#868686" stroke-width="2.00"/>
<path d="M1672.00 2061.60L1672.00 2070.00" stroke="#868686" stroke-width="2.00"/>
<path d="M1325.70 1749.80L1615.30 1749.80" stroke="#000" stroke-width="2.50"/>
<path d="M1325.70 1788.70L1521.30 1788.70" stroke="#000" stroke-width="2.50"/>
<path d="M1419.90 1816.00L1615.30 1816.00" stroke="#000" stroke-width="2.50"/>
<path d="M1419.30 1844.50L1521.30 1844.50" stroke="#000" stroke-width="2.50"/>
<text transform="translate(59.82 337.54) scale(0.9800 1)" font-family="'Liberation Sans', sans-serif" font-size="8.40" stroke="#000" stroke-width="0.22">0</text>
<text transform="translate(55.24 296.01) scale(0.9800 1)" font-family="'Liberation Sans', sans-serif" font-size="8.40" stroke="#000" stroke-width="0.22">20</text>
<text transform="translate(55.24 254.48) scale(0.9800 1)" font-family="'Liberation Sans', sans-serif" font-size="8.40" stroke="#000" stroke-width="0.22">40</text>
<text transform="translate(55.24 212.96) scale(0.9800 1)" font-family="'Liberation Sans', sans-serif" font-size="8.40" stroke="#000" stroke-width="0.22">60</text>
<text transform="translate(55.24 171.43) scale(0.9800 1)" font-family="'Liberation Sans', sans-serif" font-size="8.40" stroke="#000" stroke-width="0.22">80</text>
<text transform="translate(50.66 129.90) scale(0.9800 1)" font-family="'Liberation Sans', sans-serif" font-size="8.40" stroke="#000" stroke-width="0.22">100</text>
<text transform="translate(88.74 357.00) scale(1.0782 1)" font-family="'Liberation Sans', sans-serif" font-size="8.40" stroke="#000" stroke-width="0.22">-10</text>
<text transform="translate(101.84 351.60) scale(1.0702 1)" font-family="'Liberation Sans', sans-serif" font-size="8.20" stroke="#000" stroke-width="0.22">3</text>
<text transform="translate(132.84 357.00) scale(1.0447 1)" font-family="'Liberation Sans', sans-serif" font-size="8.40" stroke="#000" stroke-width="0.22">0</text>
<text transform="translate(170.68 357.00) scale(1.0530 1)" font-family="'Liberation Sans', sans-serif" font-size="8.40" stroke="#000" stroke-width="0.22">10</text>
<text transform="translate(180.54 351.60) scale(1.0702 1)" font-family="'Liberation Sans', sans-serif" font-size="8.20" stroke="#000" stroke-width="0.22">3</text>
<text transform="translate(236.18 357.00) scale(1.0530 1)" font-family="'Liberation Sans', sans-serif" font-size="8.40" stroke="#000" stroke-width="0.22">10</text>
<text transform="translate(246.13 351.60) scale(1.0282 1)" font-family="'Liberation Sans', sans-serif" font-size="8.20" stroke="#000" stroke-width="0.22">4</text>
<text transform="translate(293.48 357.00) scale(1.0530 1)" font-family="'Liberation Sans', sans-serif" font-size="8.40" stroke="#000" stroke-width="0.22">10</text>
<text transform="translate(303.24 351.60) scale(1.0925 1)" font-family="'Liberation Sans', sans-serif" font-size="8.20" stroke="#000" stroke-width="0.22">5</text>
<text transform="translate(337.92 337.44) scale(0.9800 1)" font-family="'Liberation Sans', sans-serif" font-size="8.40" stroke="#000" stroke-width="0.22">0</text>
<text transform="translate(333.34 295.95) scale(0.9800 1)" font-family="'Liberation Sans', sans-serif" font-size="8.40" stroke="#000" stroke-width="0.22">20</text>
<text transform="translate(333.34 254.46) scale(0.9800 1)" font-family="'Liberation Sans', sans-serif" font-size="8.40" stroke="#000" stroke-width="0.22">40</text>
<text transform="translate(333.34 212.98) scale(0.9800 1)" font-family="'Liberation Sans', sans-serif" font-size="8.40" stroke="#000" stroke-width="0.22">60</text>
<text transform="translate(333.34 171.49) scale(0.9800 1)" font-family="'Liberation Sans', sans-serif" font-size="8.40" stroke="#000" stroke-width="0.22">80</text>
<text transform="translate(328.76 130.00) scale(0.9800 1)" font-family="'Liberation Sans', sans-serif" font-size="8.40" stroke="#000" stroke-width="0.22">100</text>
<text transform="translate(366.84 356.90) scale(1.0782 1)" font-family="'Liberation Sans', sans-serif" font-size="8.40" stroke="#000" stroke-width="0.22">-10</text>
<text transform="translate(379.94 351.50) scale(1.0702 1)" font-family="'Liberation Sans', sans-serif" font-size="8.20" stroke="#000" stroke-width="0.22">3</text>
<text transform="translate(410.94 356.90) scale(1.0447 1)" font-family="'Liberation Sans', sans-serif" font-size="8.40" stroke="#000" stroke-width="0.22">0</text>
<text transform="translate(448.78 356.90) scale(1.0530 1)" font-family="'Liberation Sans', sans-serif" font-size="8.40" stroke="#000" stroke-width="0.22">10</text>
<text transform="translate(458.64 351.50) scale(1.0702 1)" font-family="'Liberation Sans', sans-serif" font-size="8.20" stroke="#000" stroke-width="0.22">3</text>
<text transform="translate(514.28 356.90) scale(1.0530 1)" font-family="'Liberation Sans', sans-serif" font-size="8.40" stroke="#000" stroke-width="0.22">10</text>
<text transform="translate(524.23 351.50) scale(1.0282 1)" font-family="'Liberation Sans', sans-serif" font-size="8.20" stroke="#000" stroke-width="0.22">4</text>
<text transform="translate(571.58 356.90) scale(1.0530 1)" font-family="'Liberation Sans', sans-serif" font-size="8.40" stroke="#000" stroke-width="0.22">10</text>
<text transform="translate(581.34 351.50) scale(1.0925 1)" font-family="'Liberation Sans', sans-serif" font-size="8.20" stroke="#000" stroke-width="0.22">5</text>
<text transform="translate(618.72 338.44) scale(0.9800 1)" font-family="'Liberation Sans', sans-serif" font-size="8.40" stroke="#000" stroke-width="0.22">0</text>
<text transform="translate(614.14 296.93) scale(0.9800 1)" font-family="'Liberation Sans', sans-serif" font-size="8.40" stroke="#000" stroke-width="0.22">20</text>
<text transform="translate(614.14 255.42) scale(0.9800 1)" font-family="'Liberation Sans', sans-serif" font-size="8.40" stroke="#000" stroke-width="0.22">40</text>
<text transform="translate(614.14 213.92) scale(0.9800 1)" font-family="'Liberation Sans', sans-serif" font-size="8.40" stroke="#000" stroke-width="0.22">60</text>
<text transform="translate(614.14 172.41) scale(0.9800 1)" font-family="'Liberation Sans', sans-serif" font-size="8.40" stroke="#000" stroke-width="0.22">80</text>
<text transform="translate(609.56 130.90) scale(0.9800 1)" font-family="'Liberation Sans', sans-serif" font-size="8.40" stroke="#000" stroke-width="0.22">100</text>
<text transform="translate(647.64 357.90) scale(1.0782 1)" font-family="'Liberation Sans', sans-serif" font-size="8.40" stroke="#000" stroke-width="0.22">-10</text>
<text transform="translate(660.74 352.50) scale(1.0702 1)" font-family="'Liberation Sans', sans-serif" font-size="8.20" stroke="#000" stroke-width="0.22">3</text>
<text transform="translate(691.74 357.90) scale(1.0447 1)" font-family="'Liberation Sans', sans-serif" font-size="8.40" stroke="#000" stroke-width="0.22">0</text>
<text transform="translate(729.58 357.90) scale(1.0530 1)" font-family="'Liberation Sans', sans-serif" font-size="8.40" stroke="#000" stroke-width="0.22">10</text>
<text transform="translate(739.44 352.50) scale(1.0702 1)" font-family="'Liberation Sans', sans-serif" font-size="8.20" stroke="#000" stroke-width="0.22">3</text>
<text transform="translate(795.08 357.90) scale(1.0530 1)" font-family="'Liberation Sans', sans-serif" font-size="8.40" stroke="#000" stroke-width="0.22">10</text>
<text transform="translate(805.03 352.50) scale(1.0282 1)" font-family="'Liberation Sans', sans-serif" font-size="8.20" stroke="#000" stroke-width="0.22">4</text>
<text transform="translate(852.38 357.90) scale(1.0530 1)" font-family="'Liberation Sans', sans-serif" font-size="8.40" stroke="#000" stroke-width="0.22">10</text>
<text transform="translate(862.14 352.50) scale(1.0925 1)" font-family="'Liberation Sans', sans-serif" font-size="8.20" stroke="#000" stroke-width="0.22">5</text>
<text transform="translate(59.82 656.25) scale(0.9800 1)" font-family="'Liberation Sans', sans-serif" font-size="8.40" stroke="#000" stroke-width="0.22">0</text>
<text transform="translate(55.24 614.84) scale(0.9800 1)" font-family="'Liberation Sans', sans-serif" font-size="8.40" stroke="#000" stroke-width="0.22">20</text>
<text transform="translate(55.24 573.43) scale(0.9800 1)" font-family="'Liberation Sans', sans-serif" font-size="8.40" stroke="#000" stroke-width="0.22">40</text>
<text transform="translate(55.24 532.02) scale(0.9800 1)" font-family="'Liberation Sans', sans-serif" font-size="8.40" stroke="#000" stroke-width="0.22">60</text>
<text transform="translate(55.24 490.61) scale(0.9800 1)" font-family="'Liberation Sans', sans-serif" font-size="8.40" stroke="#000" stroke-width="0.22">80</text>
<text transform="translate(50.66 449.20) scale(0.9800 1)" font-family="'Liberation Sans', sans-serif" font-size="8.40" stroke="#000" stroke-width="0.22">100</text>
<text transform="translate(88.74 675.70) scale(1.0782 1)" font-family="'Liberation Sans', sans-serif" font-size="8.40" stroke="#000" stroke-width="0.22">-10</text>
<text transform="translate(101.84 670.30) scale(1.0702 1)" font-family="'Liberation Sans', sans-serif" font-size="8.20" stroke="#000" stroke-width="0.22">3</text>
<text transform="translate(132.84 675.70) scale(1.0447 1)" font-family="'Liberation Sans', sans-serif" font-size="8.40" stroke="#000" stroke-width="0.22">0</text>
<text transform="translate(170.68 675.70) scale(1.0530 1)" font-family="'Liberation Sans', sans-serif" font-size="8.40" stroke="#000" stroke-width="0.22">10</text>
<text transform="translate(180.54 670.30) scale(1.0702 1)" font-family="'Liberation Sans', sans-serif" font-size="8.20" stroke="#000" stroke-width="0.22">3</text>
<text transform="translate(236.18 675.70) scale(1.0530 1)" font-family="'Liberation Sans', sans-serif" font-size="8.40" stroke="#000" stroke-width="0.22">10</text>
<text transform="translate(246.13 670.30) scale(1.0282 1)" font-family="'Liberation Sans', sans-serif" font-size="8.20" stroke="#000" stroke-width="0.22">4</text>
<text transform="translate(293.48 675.70) scale(1.0530 1)" font-family="'Liberation Sans', sans-serif" font-size="8.40" stroke="#000" stroke-width="0.22">10</text>
<text transform="translate(303.24 670.30) scale(1.0925 1)" font-family="'Liberation Sans', sans-serif" font-size="8.20" stroke="#000" stroke-width="0.22">5</text>
<text transform="translate(338.72 656.25) scale(0.9800 1)" font-family="'Liberation Sans', sans-serif" font-size="8.40" stroke="#000" stroke-width="0.22">0</text>
<text transform="translate(334.14 614.84) scale(0.9800 1)" font-family="'Liberation Sans', sans-serif" font-size="8.40" stroke="#000" stroke-width="0.22">20</text>
<text transform="translate(334.14 573.43) scale(0.9800 1)" font-family="'Liberation Sans', sans-serif" font-size="8.40" stroke="#000" stroke-width="0.22">40</text>
<text transform="translate(334.14 532.02) scale(0.9800 1)" font-family="'Liberation Sans', sans-serif" font-size="8.40" stroke="#000" stroke-width="0.22">60</text>
<text transform="translate(334.14 490.61) scale(0.9800 1)" font-family="'Liberation Sans', sans-serif" font-size="8.40" stroke="#000" stroke-width="0.22">80</text>
<text transform="translate(329.56 449.20) scale(0.9800 1)" font-family="'Liberation Sans', sans-serif" font-size="8.40" stroke="#000" stroke-width="0.22">100</text>
<text transform="translate(367.64 675.70) scale(1.0782 1)" font-family="'Liberation Sans', sans-serif" font-size="8.40" stroke="#000" stroke-width="0.22">-10</text>
<text transform="translate(380.74 670.30) scale(1.0702 1)" font-family="'Liberation Sans', sans-serif" font-size="8.20" stroke="#000" stroke-width="0.22">3</text>
<text transform="translate(411.74 675.70) scale(1.0447 1)" font-family="'Liberation Sans', sans-serif" font-size="8.40" stroke="#000" stroke-width="0.22">0</text>
<text transform="translate(449.58 675.70) scale(1.0530 1)" font-family="'Liberation Sans', sans-serif" font-size="8.40" stroke="#000" stroke-width="0.22">10</text>
<text transform="translate(459.44 670.30) scale(1.0702 1)" font-family="'Liberation Sans', sans-serif" font-size="8.20" stroke="#000" stroke-width="0.22">3</text>
<text transform="translate(515.08 675.70) scale(1.0530 1)" font-family="'Liberation Sans', sans-serif" font-size="8.40" stroke="#000" stroke-width="0.22">10</text>
<text transform="translate(525.03 670.30) scale(1.0282 1)" font-family="'Liberation Sans', sans-serif" font-size="8.20" stroke="#000" stroke-width="0.22">4</text>
<text transform="translate(572.38 675.70) scale(1.0530 1)" font-family="'Liberation Sans', sans-serif" font-size="8.40" stroke="#000" stroke-width="0.22">10</text>
<text transform="translate(582.14 670.30) scale(1.0925 1)" font-family="'Liberation Sans', sans-serif" font-size="8.20" stroke="#000" stroke-width="0.22">5</text>
<text transform="translate(620.12 656.25) scale(0.9800 1)" font-family="'Liberation Sans', sans-serif" font-size="8.40" stroke="#000" stroke-width="0.22">0</text>
<text transform="translate(615.54 614.84) scale(0.9800 1)" font-family="'Liberation Sans', sans-serif" font-size="8.40" stroke="#000" stroke-width="0.22">20</text>
<text transform="translate(615.54 573.43) scale(0.9800 1)" font-family="'Liberation Sans', sans-serif" font-size="8.40" stroke="#000" stroke-width="0.22">40</text>
<text transform="translate(615.54 532.02) scale(0.9800 1)" font-family="'Liberation Sans', sans-serif" font-size="8.40" stroke="#000" stroke-width="0.22">60</text>
<text transform="translate(615.54 490.61) scale(0.9800 1)" font-family="'Liberation Sans', sans-serif" font-size="8.40" stroke="#000" stroke-width="0.22">80</text>
<text transform="translate(610.96 449.20) scale(0.9800 1)" font-family="'Liberation Sans', sans-serif" font-size="8.40" stroke="#000" stroke-width="0.22">100</text>
<text transform="translate(649.04 675.70) scale(1.0782 1)" font-family="'Liberation Sans', sans-serif" font-size="8.40" stroke="#000" stroke-width="0.22">-10</text>
<text transform="translate(662.14 670.30) scale(1.0702 1)" font-family="'Liberation Sans', sans-serif" font-size="8.20" stroke="#000" stroke-width="0.22">3</text>
<text transform="translate(693.14 675.70) scale(1.0447 1)" font-family="'Liberation Sans', sans-serif" font-size="8.40" stroke="#000" stroke-width="0.22">0</text>
<text transform="translate(730.98 675.70) scale(1.0530 1)" font-family="'Liberation Sans', sans-serif" font-size="8.40" stroke="#000" stroke-width="0.22">10</text>
<text transform="translate(740.84 670.30) scale(1.0702 1)" font-family="'Liberation Sans', sans-serif" font-size="8.20" stroke="#000" stroke-width="0.22">3</text>
<text transform="translate(796.48 675.70) scale(1.0530 1)" font-family="'Liberation Sans', sans-serif" font-size="8.40" stroke="#000" stroke-width="0.22">10</text>
<text transform="translate(806.43 670.30) scale(1.0282 1)" font-family="'Liberation Sans', sans-serif" font-size="8.20" stroke="#000" stroke-width="0.22">4</text>
<text transform="translate(853.78 675.70) scale(1.0530 1)" font-family="'Liberation Sans', sans-serif" font-size="8.40" stroke="#000" stroke-width="0.22">10</text>
<text transform="translate(863.54 670.30) scale(1.0925 1)" font-family="'Liberation Sans', sans-serif" font-size="8.20" stroke="#000" stroke-width="0.22">5</text>
<text transform="translate(59.52 973.15) scale(0.9800 1)" font-family="'Liberation Sans', sans-serif" font-size="8.40" stroke="#000" stroke-width="0.22">0</text>
<text transform="translate(54.94 931.80) scale(0.9800 1)" font-family="'Liberation Sans', sans-serif" font-size="8.40" stroke="#000" stroke-width="0.22">20</text>
<text transform="translate(54.94 890.45) scale(0.9800 1)" font-family="'Liberation Sans', sans-serif" font-size="8.40" stroke="#000" stroke-width="0.22">40</text>
<text transform="translate(54.94 849.10) scale(0.9800 1)" font-family="'Liberation Sans', sans-serif" font-size="8.40" stroke="#000" stroke-width="0.22">60</text>
<text transform="translate(54.94 807.75) scale(0.9800 1)" font-family="'Liberation Sans', sans-serif" font-size="8.40" stroke="#000" stroke-width="0.22">80</text>
<text transform="translate(50.36 766.40) scale(0.9800 1)" font-family="'Liberation Sans', sans-serif" font-size="8.40" stroke="#000" stroke-width="0.22">100</text>
<text transform="translate(88.44 992.60) scale(1.0782 1)" font-family="'Liberation Sans', sans-serif" font-size="8.40" stroke="#000" stroke-width="0.22">-10</text>
<text transform="translate(101.54 987.20) scale(1.0702 1)" font-family="'Liberation Sans', sans-serif" font-size="8.20" stroke="#000" stroke-width="0.22">3</text>
<text transform="translate(132.54 992.60) scale(1.0447 1)" font-family="'Liberation Sans', sans-serif" font-size="8.40" stroke="#000" stroke-width="0.22">0</text>
<text transform="translate(170.38 992.60) scale(1.0530 1)" font-family="'Liberation Sans', sans-serif" font-size="8.40" stroke="#000" stroke-width="0.22">10</text>
<text transform="translate(180.24 987.20) scale(1.0702 1)" font-family="'Liberation Sans', sans-serif" font-size="8.20" stroke="#000" stroke-width="0.22">3</text>
<text transform="translate(235.88 992.60) scale(1.0530 1)" font-family="'Liberation Sans', sans-serif" font-size="8.40" stroke="#000" stroke-width="0.22">10</text>
<text transform="translate(245.83 987.20) scale(1.0282 1)" font-family="'Liberation Sans', sans-serif" font-size="8.20" stroke="#000" stroke-width="0.22">4</text>
<text transform="translate(293.18 992.60) scale(1.0530 1)" font-family="'Liberation Sans', sans-serif" font-size="8.40" stroke="#000" stroke-width="0.22">10</text>
<text transform="translate(302.94 987.20) scale(1.0925 1)" font-family="'Liberation Sans', sans-serif" font-size="8.20" stroke="#000" stroke-width="0.22">5</text>
<text transform="translate(337.02 973.15) scale(0.9800 1)" font-family="'Liberation Sans', sans-serif" font-size="8.40" stroke="#000" stroke-width="0.22">0</text>
<text transform="translate(332.44 931.80) scale(0.9800 1)" font-family="'Liberation Sans', sans-serif" font-size="8.40" stroke="#000" stroke-width="0.22">20</text>
<text transform="translate(332.44 890.45) scale(0.9800 1)" font-family="'Liberation Sans', sans-serif" font-size="8.40" stroke="#000" stroke-width="0.22">40</text>
<text transform="translate(332.44 849.10) scale(0.9800 1)" font-family="'Liberation Sans', sans-serif" font-size="8.40" stroke="#000" stroke-width="0.22">60</text>
<text transform="translate(332.44 807.75) scale(0.9800 1)" font-family="'Liberation Sans', sans-serif" font-size="8.40" stroke="#000" stroke-width="0.22">80</text>
<text transform="translate(327.86 766.40) scale(0.9800 1)" font-family="'Liberation Sans', sans-serif" font-size="8.40" stroke="#000" stroke-width="0.22">100</text>
<text transform="translate(365.94 992.60) scale(1.0782 1)" font-family="'Liberation Sans', sans-serif" font-size="8.40" stroke="#000" stroke-width="0.22">-10</text>
<text transform="translate(379.04 987.20) scale(1.0702 1)" font-family="'Liberation Sans', sans-serif" font-size="8.20" stroke="#000" stroke-width="0.22">3</text>
<text transform="translate(410.04 992.60) scale(1.0447 1)" font-family="'Liberation Sans', sans-serif" font-size="8.40" stroke="#000" stroke-width="0.22">0</text>
<text transform="translate(447.88 992.60) scale(1.0530 1)" font-family="'Liberation Sans', sans-serif" font-size="8.40" stroke="#000" stroke-width="0.22">10</text>
<text transform="translate(457.74 987.20) scale(1.0702 1)" font-family="'Liberation Sans', sans-serif" font-size="8.20" stroke="#000" stroke-width="0.22">3</text>
<text transform="translate(513.38 992.60) scale(1.0530 1)" font-family="'Liberation Sans', sans-serif" font-size="8.40" stroke="#000" stroke-width="0.22">10</text>
<text transform="translate(523.33 987.20) scale(1.0282 1)" font-family="'Liberation Sans', sans-serif" font-size="8.20" stroke="#000" stroke-width="0.22">4</text>
<text transform="translate(570.68 992.60) scale(1.0530 1)" font-family="'Liberation Sans', sans-serif" font-size="8.40" stroke="#000" stroke-width="0.22">10</text>
<text transform="translate(580.44 987.20) scale(1.0925 1)" font-family="'Liberation Sans', sans-serif" font-size="8.20" stroke="#000" stroke-width="0.22">5</text>
<text transform="translate(620.12 972.46) scale(0.9800 1)" font-family="'Liberation Sans', sans-serif" font-size="8.40" stroke="#000" stroke-width="0.22">0</text>
<text transform="translate(615.54 931.16) scale(0.9800 1)" font-family="'Liberation Sans', sans-serif" font-size="8.40" stroke="#000" stroke-width="0.22">20</text>
<text transform="translate(615.54 889.87) scale(0.9800 1)" font-family="'Liberation Sans', sans-serif" font-size="8.40" stroke="#000" stroke-width="0.22">40</text>
<text transform="translate(615.54 848.58) scale(0.9800 1)" font-family="'Liberation Sans', sans-serif" font-size="8.40" stroke="#000" stroke-width="0.22">60</text>
<text transform="translate(615.54 807.29) scale(0.9800 1)" font-family="'Liberation Sans', sans-serif" font-size="8.40" stroke="#000" stroke-width="0.22">80</text>
<text transform="translate(610.96 766.00) scale(0.9800 1)" font-family="'Liberation Sans', sans-serif" font-size="8.40" stroke="#000" stroke-width="0.22">100</text>
<text transform="translate(649.04 991.90) scale(1.0782 1)" font-family="'Liberation Sans', sans-serif" font-size="8.40" stroke="#000" stroke-width="0.22">-10</text>
<text transform="translate(662.14 986.50) scale(1.0702 1)" font-family="'Liberation Sans', sans-serif" font-size="8.20" stroke="#000" stroke-width="0.22">3</text>
<text transform="translate(693.14 991.90) scale(1.0447 1)" font-family="'Liberation Sans', sans-serif" font-size="8.40" stroke="#000" stroke-width="0.22">0</text>
<text transform="translate(730.98 991.90) scale(1.0530 1)" font-family="'Liberation Sans', sans-serif" font-size="8.40" stroke="#000" stroke-width="0.22">10</text>
<text transform="translate(740.84 986.50) scale(1.0702 1)" font-family="'Liberation Sans', sans-serif" font-size="8.20" stroke="#000" stroke-width="0.22">3</text>
<text transform="translate(796.48 991.90) scale(1.0530 1)" font-family="'Liberation Sans', sans-serif" font-size="8.40" stroke="#000" stroke-width="0.22">10</text>
<text transform="translate(806.43 986.50) scale(1.0282 1)" font-family="'Liberation Sans', sans-serif" font-size="8.20" stroke="#000" stroke-width="0.22">4</text>
<text transform="translate(853.78 991.90) scale(1.0530 1)" font-family="'Liberation Sans', sans-serif" font-size="8.40" stroke="#000" stroke-width="0.22">10</text>
<text transform="translate(863.54 986.50) scale(1.0925 1)" font-family="'Liberation Sans', sans-serif" font-size="8.20" stroke="#000" stroke-width="0.22">5</text>
<text transform="translate(125.17 100.50) scale(1.0732 1)" font-family="'Liberation Sans', sans-serif" font-size="31.60" font-weight="700" stroke="#000" stroke-width="0.63">Melmet 1</text>
<text transform="translate(437.06 98.50) scale(1.0164 1)" font-family="'Liberation Sans', sans-serif" font-size="31.60" font-weight="700" stroke="#000" stroke-width="0.63">A375</text>
<text transform="translate(687.60 100.20) scale(1.0878 1)" font-family="'Liberation Sans', sans-serif" font-size="31.60" font-weight="700" stroke="#000" stroke-width="0.63">WM1366</text>
<text transform="translate(170.67 418.50) scale(0.9118 1)" font-family="'Liberation Sans', sans-serif" font-size="31.60" font-weight="700" stroke="#000" stroke-width="0.63">LOX</text>
<text transform="translate(407.50 417.20) scale(0.9509 1)" font-family="'Liberation Sans', sans-serif" font-size="31.60" font-weight="700" stroke="#000" stroke-width="0.63">SKMEL28</text>
<text transform="translate(684.37 418.10) scale(1.0732 1)" font-family="'Liberation Sans', sans-serif" font-size="31.60" font-weight="700" stroke="#000" stroke-width="0.63">Melmet 5</text>
<text transform="translate(134.40 734.60) scale(1.0751 1)" font-family="'Liberation Sans', sans-serif" font-size="31.60" font-weight="700" stroke="#000" stroke-width="0.63">WM45.1</text>
<text transform="translate(414.30 734.60) scale(1.0851 1)" font-family="'Liberation Sans', sans-serif" font-size="31.60" font-weight="700" stroke="#000" stroke-width="0.63">WM239</text>
<text transform="translate(687.60 733.20) scale(1.0766 1)" font-family="'Liberation Sans', sans-serif" font-size="31.60" font-weight="700" stroke="#000" stroke-width="0.63">WM983b</text>
<text transform="translate(361.10 1071.90) scale(0.9437 1)" font-family="'Liberation Sans', sans-serif" font-size="32.00" font-weight="700" stroke="#000" stroke-width="0.64">AXL expression</text>
<text transform="translate(1.91 49.20) scale(0.8992 1)" font-family="'Liberation Sans', sans-serif" font-size="55.00" font-weight="700">a</text>
<text transform="translate(951.59 51.50) scale(1.0018 1)" font-family="'Liberation Sans', sans-serif" font-size="55.00" font-weight="700">b</text>
<text transform="translate(1106.67 488.40) scale(0.9780 1)" font-family="'Liberation Sans', sans-serif" font-size="27.00">0</text>
<text transform="translate(1091.98 457.84) scale(0.9780 1)" font-family="'Liberation Sans', sans-serif" font-size="27.00">20</text>
<text transform="translate(1091.98 427.28) scale(0.9780 1)" font-family="'Liberation Sans', sans-serif" font-size="27.00">40</text>
<text transform="translate(1091.98 396.71) scale(0.9780 1)" font-family="'Liberation Sans', sans-serif" font-size="27.00">60</text>
<text transform="translate(1091.98 366.15) scale(0.9780 1)" font-family="'Liberation Sans', sans-serif" font-size="27.00">80</text>
<text transform="translate(1077.30 335.59) scale(0.9780 1)" font-family="'Liberation Sans', sans-serif" font-size="27.00">100</text>
<text transform="translate(1077.30 305.03) scale(0.9780 1)" font-family="'Liberation Sans', sans-serif" font-size="27.00">120</text>
<text transform="translate(1077.30 274.46) scale(0.9780 1)" font-family="'Liberation Sans', sans-serif" font-size="27.00">140</text>
<text transform="translate(1077.30 243.90) scale(0.9780 1)" font-family="'Liberation Sans', sans-serif" font-size="27.00">160</text>
<text transform="translate(1191.95 151.20) scale(1.0763 1)" font-family="'Liberation Sans', sans-serif" font-size="32.60" font-weight="700" stroke="#000" stroke-width="0.65">24 hours treatment</text>
<text transform="translate(1196.86 204.60) scale(1.1470 1)" font-family="'Liberation Sans', sans-serif" font-size="22.20">Melmet 1</text>
<text transform="translate(1198.90 235.80) scale(1.0442 1)" font-family="'Liberation Sans', sans-serif" font-size="22.20">A375</text>
<text transform="translate(1198.90 267.60) scale(1.1053 1)" font-family="'Liberation Sans', sans-serif" font-size="22.20">WM1366</text>
<text transform="translate(1058.00 462.65) rotate(-90) scale(0.9153 1)" font-family="'Liberation Sans', sans-serif" font-size="31.30" font-weight="700" stroke="#000" stroke-width="0.63">Cell Viability, %</text>
<text transform="translate(1191.68 527.10) scale(1.0128 1)" font-family="'Liberation Sans', sans-serif" font-size="27.00">0</text>
<text transform="translate(1291.76 527.10) scale(1.0269 1)" font-family="'Liberation Sans', sans-serif" font-size="27.00">1</text>
<text transform="translate(1392.24 527.10) scale(1.0789 1)" font-family="'Liberation Sans', sans-serif" font-size="27.00">2</text>
<text transform="translate(1493.48 527.10) scale(1.0128 1)" font-family="'Liberation Sans', sans-serif" font-size="27.00">3</text>
<text transform="translate(1291.30 577.00) scale(1.0005 1)" font-family="'Liberation Sans', sans-serif" font-size="28.90">AXLi, uM</text>
<text transform="translate(1106.27 981.10) scale(0.9780 1)" font-family="'Liberation Sans', sans-serif" font-size="27.00">0</text>
<text transform="translate(1091.58 949.81) scale(0.9780 1)" font-family="'Liberation Sans', sans-serif" font-size="27.00">20</text>
<text transform="translate(1091.58 918.52) scale(0.9780 1)" font-family="'Liberation Sans', sans-serif" font-size="27.00">40</text>
<text transform="translate(1091.58 887.24) scale(0.9780 1)" font-family="'Liberation Sans', sans-serif" font-size="27.00">60</text>
<text transform="translate(1091.58 855.95) scale(0.9780 1)" font-family="'Liberation Sans', sans-serif" font-size="27.00">80</text>
<text transform="translate(1076.90 824.66) scale(0.9780 1)" font-family="'Liberation Sans', sans-serif" font-size="27.00">100</text>
<text transform="translate(1076.90 793.38) scale(0.9780 1)" font-family="'Liberation Sans', sans-serif" font-size="27.00">120</text>
<text transform="translate(1076.90 762.09) scale(0.9780 1)" font-family="'Liberation Sans', sans-serif" font-size="27.00">140</text>
<text transform="translate(1076.90 730.80) scale(0.9780 1)" font-family="'Liberation Sans', sans-serif" font-size="27.00">160</text>
<text transform="translate(1204.61 673.60) scale(1.0077 1)" font-family="'Liberation Sans', sans-serif" font-size="32.00" font-weight="700" stroke="#000" stroke-width="0.64">72 hours treatment</text>
<text transform="translate(1060.10 951.14) rotate(-90) scale(0.9073 1)" font-family="'Liberation Sans', sans-serif" font-size="31.30" font-weight="700" stroke="#000" stroke-width="0.63">Cell Viability, %</text>
<text transform="translate(1192.65 1019.80) scale(1.0128 1)" font-family="'Liberation Sans', sans-serif" font-size="27.00">0</text>
<text transform="translate(1292.08 1019.80) scale(1.0269 1)" font-family="'Liberation Sans', sans-serif" font-size="27.00">1</text>
<text transform="translate(1391.92 1019.80) scale(1.0789 1)" font-family="'Liberation Sans', sans-serif" font-size="27.00">2</text>
<text transform="translate(1492.50 1019.80) scale(1.0128 1)" font-family="'Liberation Sans', sans-serif" font-size="27.00">3</text>
<text transform="translate(1291.30 1069.70) scale(1.0022 1)" font-family="'Liberation Sans', sans-serif" font-size="28.90">AXLi, uM</text>
<text transform="translate(0.49 1223.30) scale(0.9745 1)" font-family="'Liberation Sans', sans-serif" font-size="55.00" font-weight="700">c</text>
<text transform="translate(222.87 1631.50) scale(0.9780 1)" font-family="'Liberation Sans', sans-serif" font-size="27.00">0</text>
<text transform="translate(208.18 1589.43) scale(0.9780 1)" font-family="'Liberation Sans', sans-serif" font-size="27.00">20</text>
<text transform="translate(208.18 1547.37) scale(0.9780 1)" font-family="'Liberation Sans', sans-serif" font-size="27.00">40</text>
<text transform="translate(208.18 1505.30) scale(0.9780 1)" font-family="'Liberation Sans', sans-serif" font-size="27.00">60</text>
<text transform="translate(208.18 1463.23) scale(0.9780 1)" font-family="'Liberation Sans', sans-serif" font-size="27.00">80</text>
<text transform="translate(193.50 1421.17) scale(0.9780 1)" font-family="'Liberation Sans', sans-serif" font-size="27.00">100</text>
<text transform="translate(193.50 1379.10) scale(0.9780 1)" font-family="'Liberation Sans', sans-serif" font-size="27.00">120</text>
<text transform="translate(424.49 1302.62) scale(1.0095 1)" font-family="'DejaVu Sans', 'Liberation Sans', sans-serif" font-size="24.68" letter-spacing="2.15" stroke="#000" stroke-width="0.95" stroke-linejoin="round">∗∗∗</text>
<text transform="translate(376.59 1335.62) scale(1.0095 1)" font-family="'DejaVu Sans', 'Liberation Sans', sans-serif" font-size="24.68" letter-spacing="2.35" stroke="#000" stroke-width="0.95" stroke-linejoin="round">∗∗∗</text>
<text transform="translate(483.19 1368.53) scale(1.0160 1)" font-family="'DejaVu Sans', 'Liberation Sans', sans-serif" font-size="24.52" letter-spacing="2.38" stroke="#000" stroke-width="0.95" stroke-linejoin="round">∗∗</text>
<text transform="translate(447.79 1400.43) scale(1.0095 1)" font-family="'DejaVu Sans', 'Liberation Sans', sans-serif" font-size="24.68" letter-spacing="0.00" stroke="#000" stroke-width="0.95" stroke-linejoin="round">∗</text>
<text transform="translate(269.10 1670.00) scale(1.0619 1)" font-family="'Liberation Sans', sans-serif" font-size="26.30">Control</text>
<text transform="translate(374.86 1670.00) scale(0.9205 1)" font-family="'Liberation Sans', sans-serif" font-size="26.30">BRAFi</text>
<text transform="translate(481.10 1670.00) scale(0.9162 1)" font-family="'Liberation Sans', sans-serif" font-size="26.30">AXLi</text>
<text transform="translate(556.14 1670.00) scale(0.9330 1)" font-family="'Liberation Sans', sans-serif" font-size="26.30">BRAFi +</text>
<text transform="translate(577.20 1705.90) scale(0.9143 1)" font-family="'Liberation Sans', sans-serif" font-size="26.30">AXLi</text>
<text transform="translate(713.27 1632.60) scale(0.9780 1)" font-family="'Liberation Sans', sans-serif" font-size="27.00">0</text>
<text transform="translate(698.58 1590.40) scale(0.9780 1)" font-family="'Liberation Sans', sans-serif" font-size="27.00">20</text>
<text transform="translate(698.58 1548.20) scale(0.9780 1)" font-family="'Liberation Sans', sans-serif" font-size="27.00">40</text>
<text transform="translate(698.58 1506.00) scale(0.9780 1)" font-family="'Liberation Sans', sans-serif" font-size="27.00">60</text>
<text transform="translate(698.58 1463.80) scale(0.9780 1)" font-family="'Liberation Sans', sans-serif" font-size="27.00">80</text>
<text transform="translate(683.90 1421.60) scale(0.9780 1)" font-family="'Liberation Sans', sans-serif" font-size="27.00">100</text>
<text transform="translate(683.90 1379.40) scale(0.9780 1)" font-family="'Liberation Sans', sans-serif" font-size="27.00">120</text>
<text transform="translate(923.69 1304.43) scale(1.0095 1)" font-family="'DejaVu Sans', 'Liberation Sans', sans-serif" font-size="24.68" letter-spacing="2.10" stroke="#000" stroke-width="0.95" stroke-linejoin="round">∗∗∗</text>
<text transform="translate(874.28 1335.43) scale(1.0095 1)" font-family="'DejaVu Sans', 'Liberation Sans', sans-serif" font-size="24.68" letter-spacing="2.35" stroke="#000" stroke-width="0.95" stroke-linejoin="round">∗∗∗</text>
<text transform="translate(839.09 1368.33) scale(1.0095 1)" font-family="'DejaVu Sans', 'Liberation Sans', sans-serif" font-size="24.68" letter-spacing="2.70" stroke="#000" stroke-width="0.95" stroke-linejoin="round">∗∗</text>
<text transform="translate(980.49 1402.43) scale(1.0095 1)" font-family="'DejaVu Sans', 'Liberation Sans', sans-serif" font-size="24.68" letter-spacing="2.70" stroke="#000" stroke-width="0.95" stroke-linejoin="round">∗∗</text>
<text transform="translate(944.74 1431.43) scale(1.0095 1)" font-family="'DejaVu Sans', 'Liberation Sans', sans-serif" font-size="24.68" letter-spacing="0.00" stroke="#000" stroke-width="0.95" stroke-linejoin="round">∗</text>
<text transform="translate(1026.18 1462.43) scale(1.0095 1)" font-family="'DejaVu Sans', 'Liberation Sans', sans-serif" font-size="24.68" letter-spacing="2.10" stroke="#000" stroke-width="0.95" stroke-linejoin="round">∗∗</text>
<text transform="translate(760.90 1672.10) scale(1.0656 1)" font-family="'Liberation Sans', sans-serif" font-size="26.30">Control</text>
<text transform="translate(869.57 1672.10) scale(0.9191 1)" font-family="'Liberation Sans', sans-serif" font-size="26.30">BRAFi</text>
<text transform="translate(978.20 1672.10) scale(0.9255 1)" font-family="'Liberation Sans', sans-serif" font-size="26.30">AXLi</text>
<text transform="translate(1056.14 1672.10) scale(0.9330 1)" font-family="'Liberation Sans', sans-serif" font-size="26.30">BRAFi +</text>
<text transform="translate(1077.20 1707.60) scale(0.9143 1)" font-family="'Liberation Sans', sans-serif" font-size="26.30">AXLi</text>
<text transform="translate(1234.07 1630.80) scale(0.9780 1)" font-family="'Liberation Sans', sans-serif" font-size="27.00">0</text>
<text transform="translate(1219.38 1588.92) scale(0.9780 1)" font-family="'Liberation Sans', sans-serif" font-size="27.00">20</text>
<text transform="translate(1219.38 1547.03) scale(0.9780 1)" font-family="'Liberation Sans', sans-serif" font-size="27.00">40</text>
<text transform="translate(1219.38 1505.15) scale(0.9780 1)" font-family="'Liberation Sans', sans-serif" font-size="27.00">60</text>
<text transform="translate(1219.38 1463.27) scale(0.9780 1)" font-family="'Liberation Sans', sans-serif" font-size="27.00">80</text>
<text transform="translate(1204.70 1421.38) scale(0.9780 1)" font-family="'Liberation Sans', sans-serif" font-size="27.00">100</text>
<text transform="translate(1204.70 1379.50) scale(0.9780 1)" font-family="'Liberation Sans', sans-serif" font-size="27.00">120</text>
<text transform="translate(1439.78 1296.93) scale(1.0095 1)" font-family="'DejaVu Sans', 'Liberation Sans', sans-serif" font-size="24.68" letter-spacing="2.25" stroke="#000" stroke-width="0.95" stroke-linejoin="round">∗∗∗</text>
<text transform="translate(1405.78 1330.62) scale(1.0095 1)" font-family="'DejaVu Sans', 'Liberation Sans', sans-serif" font-size="24.68" letter-spacing="2.50" stroke="#000" stroke-width="0.95" stroke-linejoin="round">∗∗</text>
<text transform="translate(1493.38 1359.83) scale(1.0095 1)" font-family="'DejaVu Sans', 'Liberation Sans', sans-serif" font-size="24.68" letter-spacing="2.25" stroke="#000" stroke-width="0.95" stroke-linejoin="round">∗∗∗</text>
<text transform="translate(1453.48 1392.73) scale(1.0095 1)" font-family="'DejaVu Sans', 'Liberation Sans', sans-serif" font-size="24.68" letter-spacing="2.30" stroke="#000" stroke-width="0.95" stroke-linejoin="round">∗∗</text>
<text transform="translate(1282.10 1669.60) scale(1.0632 1)" font-family="'Liberation Sans', sans-serif" font-size="26.30">Control</text>
<text transform="translate(1390.37 1669.60) scale(0.9191 1)" font-family="'Liberation Sans', sans-serif" font-size="26.30">BRAFi</text>
<text transform="translate(1499.40 1669.60) scale(0.9181 1)" font-family="'Liberation Sans', sans-serif" font-size="26.30">AXLi</text>
<text transform="translate(1576.43 1669.60) scale(0.9341 1)" font-family="'Liberation Sans', sans-serif" font-size="26.30">BRAFi +</text>
<text transform="translate(1598.20 1705.00) scale(0.9143 1)" font-family="'Liberation Sans', sans-serif" font-size="26.30">AXLi</text>
<text transform="translate(221.67 2069.80) scale(0.9780 1)" font-family="'Liberation Sans', sans-serif" font-size="27.00">0</text>
<text transform="translate(206.98 2028.13) scale(0.9780 1)" font-family="'Liberation Sans', sans-serif" font-size="27.00">20</text>
<text transform="translate(206.98 1986.47) scale(0.9780 1)" font-family="'Liberation Sans', sans-serif" font-size="27.00">40</text>
<text transform="translate(206.98 1944.80) scale(0.9780 1)" font-family="'Liberation Sans', sans-serif" font-size="27.00">60</text>
<text transform="translate(206.98 1903.13) scale(0.9780 1)" font-family="'Liberation Sans', sans-serif" font-size="27.00">80</text>
<text transform="translate(192.30 1861.47) scale(0.9780 1)" font-family="'Liberation Sans', sans-serif" font-size="27.00">100</text>
<text transform="translate(192.30 1819.80) scale(0.9780 1)" font-family="'Liberation Sans', sans-serif" font-size="27.00">120</text>
<text transform="translate(421.29 1779.23) scale(1.0095 1)" font-family="'DejaVu Sans', 'Liberation Sans', sans-serif" font-size="24.68" letter-spacing="2.00" stroke="#000" stroke-width="0.95" stroke-linejoin="round">∗∗∗</text>
<text transform="translate(383.69 1809.23) scale(1.0095 1)" font-family="'DejaVu Sans', 'Liberation Sans', sans-serif" font-size="24.68" letter-spacing="2.30" stroke="#000" stroke-width="0.95" stroke-linejoin="round">∗∗</text>
<text transform="translate(326.69 1838.62) scale(1.0095 1)" font-family="'DejaVu Sans', 'Liberation Sans', sans-serif" font-size="24.68" letter-spacing="2.20" stroke="#000" stroke-width="0.95" stroke-linejoin="round">∗∗∗</text>
<text transform="translate(468.29 1847.43) scale(1.0095 1)" font-family="'DejaVu Sans', 'Liberation Sans', sans-serif" font-size="24.68" letter-spacing="2.35" stroke="#000" stroke-width="0.95" stroke-linejoin="round">∗∗∗</text>
<text transform="translate(518.69 1878.83) scale(1.0095 1)" font-family="'DejaVu Sans', 'Liberation Sans', sans-serif" font-size="24.68" letter-spacing="1.90" stroke="#000" stroke-width="0.95" stroke-linejoin="round">∗∗∗</text>
<text transform="translate(266.70 2108.70) scale(1.0668 1)" font-family="'Liberation Sans', sans-serif" font-size="26.30">Control</text>
<text transform="translate(372.57 2108.70) scale(0.9149 1)" font-family="'Liberation Sans', sans-serif" font-size="26.30">BRAFi</text>
<text transform="translate(478.20 2108.70) scale(0.9143 1)" font-family="'Liberation Sans', sans-serif" font-size="26.30">AXLi</text>
<text transform="translate(553.45 2108.70) scale(0.9246 1)" font-family="'Liberation Sans', sans-serif" font-size="26.30">BRAFi +</text>
<text transform="translate(574.20 2144.50) scale(0.9051 1)" font-family="'Liberation Sans', sans-serif" font-size="26.30">AXLi</text>
<text transform="translate(713.27 2068.90) scale(0.9780 1)" font-family="'Liberation Sans', sans-serif" font-size="27.00">0</text>
<text transform="translate(698.58 2027.38) scale(0.9780 1)" font-family="'Liberation Sans', sans-serif" font-size="27.00">20</text>
<text transform="translate(698.58 1985.87) scale(0.9780 1)" font-family="'Liberation Sans', sans-serif" font-size="27.00">40</text>
<text transform="translate(698.58 1944.35) scale(0.9780 1)" font-family="'Liberation Sans', sans-serif" font-size="27.00">60</text>
<text transform="translate(698.58 1902.83) scale(0.9780 1)" font-family="'Liberation Sans', sans-serif" font-size="27.00">80</text>
<text transform="translate(683.90 1861.32) scale(0.9780 1)" font-family="'Liberation Sans', sans-serif" font-size="27.00">100</text>
<text transform="translate(683.90 1819.80) scale(0.9780 1)" font-family="'Liberation Sans', sans-serif" font-size="27.00">120</text>
<text transform="translate(919.78 1778.62) scale(1.0095 1)" font-family="'DejaVu Sans', 'Liberation Sans', sans-serif" font-size="24.68" letter-spacing="2.00" stroke="#000" stroke-width="0.95" stroke-linejoin="round">∗∗∗</text>
<text transform="translate(870.09 1808.73) scale(1.0095 1)" font-family="'DejaVu Sans', 'Liberation Sans', sans-serif" font-size="24.68" letter-spacing="2.40" stroke="#000" stroke-width="0.95" stroke-linejoin="round">∗∗∗</text>
<text transform="translate(823.09 1839.83) scale(1.0095 1)" font-family="'DejaVu Sans', 'Liberation Sans', sans-serif" font-size="24.68" letter-spacing="2.40" stroke="#000" stroke-width="0.95" stroke-linejoin="round">∗∗∗</text>
<text transform="translate(918.49 1894.73) scale(1.0095 1)" font-family="'DejaVu Sans', 'Liberation Sans', sans-serif" font-size="24.68" letter-spacing="2.15" stroke="#000" stroke-width="0.95" stroke-linejoin="round">∗∗∗</text>
<text transform="translate(1020.59 1911.33) scale(1.0095 1)" font-family="'DejaVu Sans', 'Liberation Sans', sans-serif" font-size="24.68" letter-spacing="2.15" stroke="#000" stroke-width="0.95" stroke-linejoin="round">∗∗∗</text>
<text transform="translate(761.40 2107.80) scale(1.0632 1)" font-family="'Liberation Sans', sans-serif" font-size="26.30">Control</text>
<text transform="translate(870.47 2107.80) scale(0.9149 1)" font-family="'Liberation Sans', sans-serif" font-size="26.30">BRAFi</text>
<text transform="translate(979.60 2107.80) scale(0.9162 1)" font-family="'Liberation Sans', sans-serif" font-size="26.30">AXLi</text>
<text transform="translate(1057.84 2107.80) scale(0.9309 1)" font-family="'Liberation Sans', sans-serif" font-size="26.30">BRAFi +</text>
<text transform="translate(1078.90 2143.60) scale(0.9106 1)" font-family="'Liberation Sans', sans-serif" font-size="26.30">AXLi</text>
<text transform="translate(1234.37 2069.70) scale(0.9780 1)" font-family="'Liberation Sans', sans-serif" font-size="27.00">0</text>
<text transform="translate(1219.68 2028.05) scale(0.9780 1)" font-family="'Liberation Sans', sans-serif" font-size="27.00">20</text>
<text transform="translate(1219.68 1986.40) scale(0.9780 1)" font-family="'Liberation Sans', sans-serif" font-size="27.00">40</text>
<text transform="translate(1219.68 1944.75) scale(0.9780 1)" font-family="'Liberation Sans', sans-serif" font-size="27.00">60</text>
<text transform="translate(1219.68 1903.10) scale(0.9780 1)" font-family="'Liberation Sans', sans-serif" font-size="27.00">80</text>
<text transform="translate(1205.00 1861.45) scale(0.9780 1)" font-family="'Liberation Sans', sans-serif" font-size="27.00">100</text>
<text transform="translate(1205.00 1819.80) scale(0.9780 1)" font-family="'Liberation Sans', sans-serif" font-size="27.00">120</text>
<text transform="translate(1438.08 1743.62) scale(1.0095 1)" font-family="'DejaVu Sans', 'Liberation Sans', sans-serif" font-size="24.68" letter-spacing="2.10" stroke="#000" stroke-width="0.95" stroke-linejoin="round">∗∗∗</text>
<text transform="translate(1389.58 1783.62) scale(1.0095 1)" font-family="'DejaVu Sans', 'Liberation Sans', sans-serif" font-size="24.68" letter-spacing="2.15" stroke="#000" stroke-width="0.95" stroke-linejoin="round">∗∗∗</text>
<text transform="translate(1483.18 1811.43) scale(1.0095 1)" font-family="'DejaVu Sans', 'Liberation Sans', sans-serif" font-size="24.68" letter-spacing="2.35" stroke="#000" stroke-width="0.95" stroke-linejoin="round">∗∗∗</text>
<text transform="translate(1449.38 1841.33) scale(1.0095 1)" font-family="'DejaVu Sans', 'Liberation Sans', sans-serif" font-size="24.68" letter-spacing="2.50" stroke="#000" stroke-width="0.95" stroke-linejoin="round">∗∗</text>
<text transform="translate(1282.70 2108.80) scale(1.0632 1)" font-family="'Liberation Sans', sans-serif" font-size="26.30">Control</text>
<text transform="translate(1390.67 2108.80) scale(0.9191 1)" font-family="'Liberation Sans', sans-serif" font-size="26.30">BRAFi</text>
<text transform="translate(1499.40 2108.80) scale(0.9199 1)" font-family="'Liberation Sans', sans-serif" font-size="26.30">AXLi</text>
<text transform="translate(1576.43 2108.80) scale(0.9341 1)" font-family="'Liberation Sans', sans-serif" font-size="26.30">BRAFi +</text>
<text transform="translate(1598.20 2144.80) scale(0.9143 1)" font-family="'Liberation Sans', sans-serif" font-size="26.30">AXLi</text>
<text transform="translate(384.20 1255.00) scale(1.0210 1)" font-family="'Liberation Sans', sans-serif" font-size="35.90" font-weight="700" stroke="#000" stroke-width="0.72">Melmet 1</text>
<text transform="translate(916.70 1254.30) scale(0.9766 1)" font-family="'Liberation Sans', sans-serif" font-size="35.90" font-weight="700" stroke="#000" stroke-width="0.72">A375</text>
<text transform="translate(1401.50 1247.20) scale(1.0397 1)" font-family="'Liberation Sans', sans-serif" font-size="35.90" font-weight="700" stroke="#000" stroke-width="0.72">WM1366</text>
<text transform="translate(81.50 1615.97) rotate(-90) scale(0.9621 1)" font-family="'Liberation Sans', sans-serif" font-size="37.10" font-weight="700" stroke="#000" stroke-width="0.74">24 h treatment</text>
<text transform="translate(81.40 2053.33) rotate(-90) scale(0.9607 1)" font-family="'Liberation Sans', sans-serif" font-size="37.10" font-weight="700" stroke="#000" stroke-width="0.74">72 h treatment</text>
<text transform="translate(175.00 1601.94) rotate(-90) scale(0.9122 1)" font-family="'Liberation Sans', sans-serif" font-size="31.30" font-weight="700" stroke="#000" stroke-width="0.63">Cell Viability, %</text>
<text transform="translate(173.30 2041.64) rotate(-90) scale(0.9139 1)" font-family="'Liberation Sans', sans-serif" font-size="31.30" font-weight="700" stroke="#000" stroke-width="0.63">Cell Viability, %</text>
</svg>
</body></html>
